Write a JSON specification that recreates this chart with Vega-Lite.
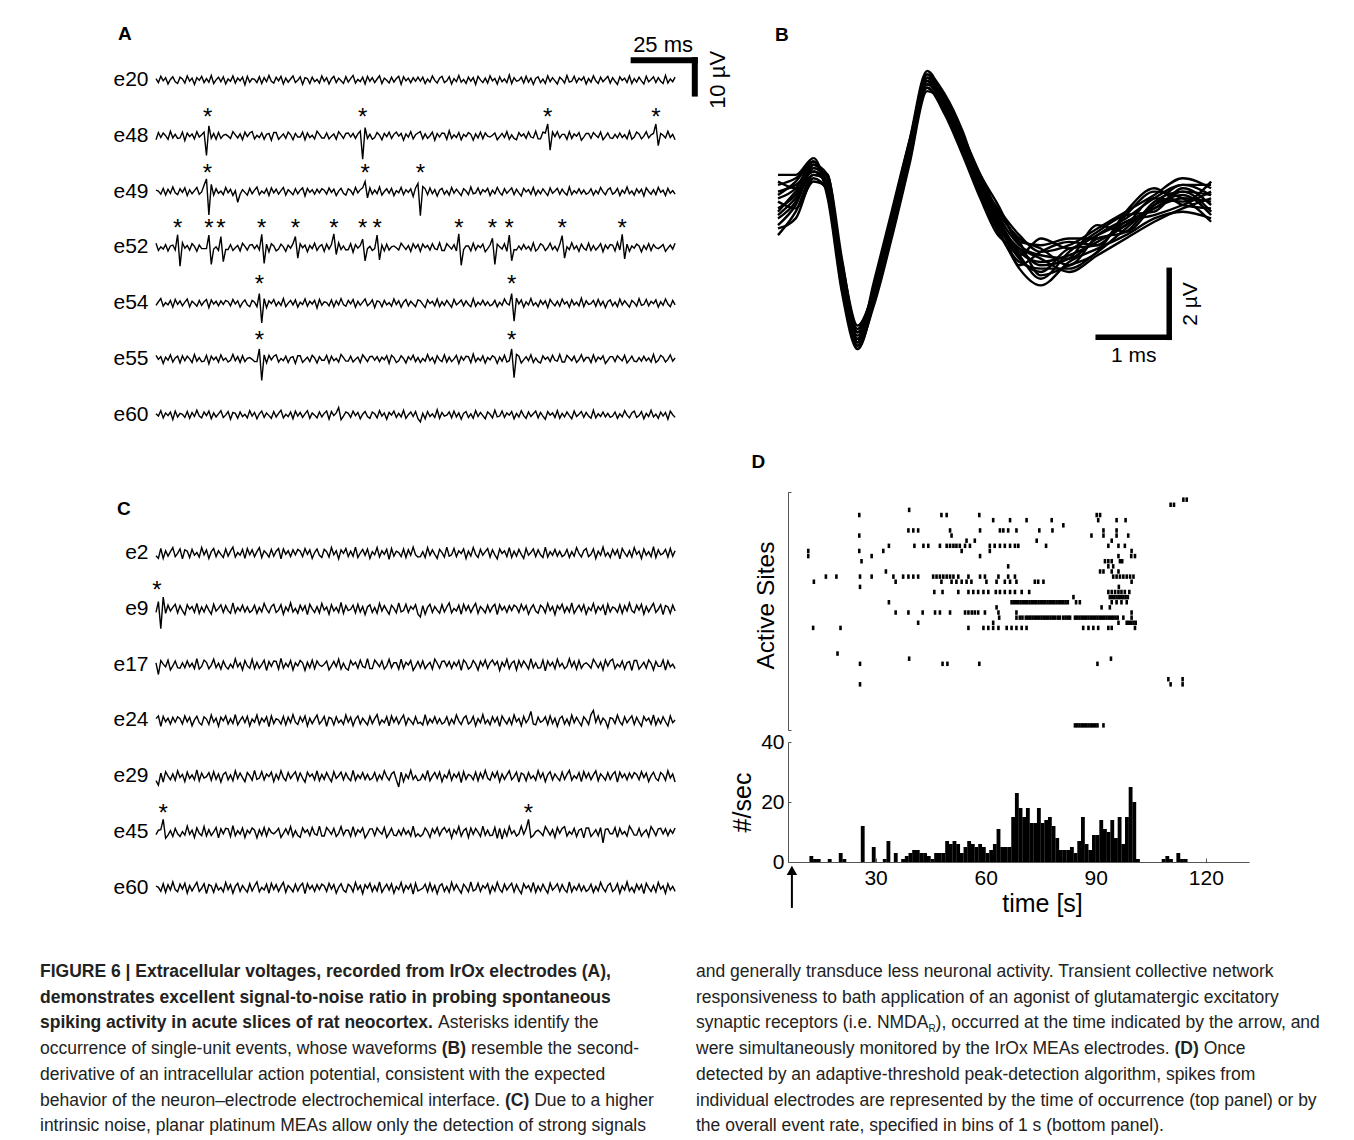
{
"$schema":"https://vega.github.io/schema/vega-lite/v6.json",
"width":1354,"height":1140,"padding":0,"autosize":{"type":"none"},
"background":"white",
"config":{"view":{"stroke":null},"font":"Liberation Sans","text":{"font":"Liberation Sans"}},
"resolve":{"scale":{"x":"independent","y":"independent","yOffset":"independent"},"axis":{"x":"independent","y":"independent"}},
"datasets":{
"a20":[{"t":0,"v":3},{"t":1,"v":-6},{"t":2,"v":8},{"t":3,"v":-2},{"t":4,"v":5},{"t":5,"v":-9},{"t":6,"v":1},{"t":7,"v":7},{"t":8,"v":-4},{"t":9,"v":-8},{"t":10,"v":6},{"t":11,"v":2},{"t":12,"v":-7},{"t":13,"v":9},{"t":14,"v":-3},{"t":15,"v":4},{"t":16,"v":-10},{"t":17,"v":5},{"t":18,"v":-1},{"t":19,"v":8},{"t":20,"v":-6},{"t":21,"v":3},{"t":22,"v":-5},{"t":23,"v":10},{"t":24,"v":-8},{"t":25,"v":0},{"t":26,"v":6},{"t":27,"v":-4},{"t":28,"v":7},{"t":29,"v":-9},{"t":30,"v":2},{"t":31,"v":-3},{"t":32,"v":9},{"t":33,"v":-7},{"t":34,"v":4},{"t":35,"v":-2},{"t":36,"v":6},{"t":37,"v":-11},{"t":38,"v":8},{"t":39,"v":-5},{"t":40,"v":3},{"t":41,"v":1},{"t":42,"v":-6},{"t":43,"v":7},{"t":44,"v":-8},{"t":45,"v":5},{"t":46,"v":-4},{"t":47,"v":10},{"t":48,"v":-3},{"t":49,"v":-7},{"t":50,"v":6},{"t":51,"v":-2},{"t":52,"v":8},{"t":53,"v":-9},{"t":54,"v":4},{"t":55,"v":-5},{"t":56,"v":2},{"t":57,"v":9},{"t":58,"v":-6},{"t":59,"v":-1},{"t":60,"v":7},{"t":61,"v":-10},{"t":62,"v":5},{"t":63,"v":3},{"t":64,"v":-8},{"t":65,"v":6},{"t":66,"v":-4},{"t":67,"v":1},{"t":68,"v":-7},{"t":69,"v":9},{"t":70,"v":-3},{"t":71,"v":5},{"t":72,"v":-9},{"t":73,"v":2},{"t":74,"v":8},{"t":75,"v":-6},{"t":76,"v":4},{"t":77,"v":-2},{"t":78,"v":-8},{"t":79,"v":7},{"t":80,"v":-5},{"t":81,"v":3},{"t":82,"v":10},{"t":83,"v":-7},{"t":84,"v":1},{"t":85,"v":-4},{"t":86,"v":6},{"t":87,"v":-9},{"t":88,"v":8},{"t":89,"v":-3},{"t":90,"v":5},{"t":91,"v":-6},{"t":92,"v":2},{"t":93,"v":9},{"t":94,"v":-8},{"t":95,"v":4},{"t":96,"v":-1},{"t":97,"v":-7},{"t":98,"v":6},{"t":99,"v":-5},{"t":100,"v":3},{"t":101,"v":8},{"t":102,"v":-10},{"t":103,"v":7},{"t":104,"v":-2},{"t":105,"v":4},{"t":106,"v":-6},{"t":107,"v":5},{"t":108,"v":-3},{"t":109,"v":6},{"t":110,"v":-3},{"t":111,"v":6},{"t":112,"v":-8},{"t":113,"v":2},{"t":114,"v":-5},{"t":115,"v":9},{"t":116,"v":-1},{"t":117,"v":-7},{"t":118,"v":4},{"t":119,"v":8},{"t":120,"v":-6},{"t":121,"v":-2},{"t":122,"v":7},{"t":123,"v":-9},{"t":124,"v":3},{"t":125,"v":-4},{"t":126,"v":10},{"t":127,"v":-5},{"t":128,"v":1},{"t":129,"v":-8},{"t":130,"v":6},{"t":131,"v":-3},{"t":132,"v":5},{"t":133,"v":-10},{"t":134,"v":8},{"t":135,"v":0},{"t":136,"v":-6},{"t":137,"v":4},{"t":138,"v":-7},{"t":139,"v":9},{"t":140,"v":-2},{"t":141,"v":3},{"t":142,"v":-9},{"t":143,"v":7},{"t":144,"v":-4},{"t":145,"v":2},{"t":146,"v":-6},{"t":147,"v":11},{"t":148,"v":-8},{"t":149,"v":5},{"t":150,"v":-3},{"t":151,"v":-1},{"t":152,"v":6},{"t":153,"v":-7},{"t":154,"v":8},{"t":155,"v":-5},{"t":156,"v":4},{"t":157,"v":-10},{"t":158,"v":3},{"t":159,"v":7},{"t":160,"v":-6},{"t":161,"v":2},{"t":162,"v":-8},{"t":163,"v":9},{"t":164,"v":-4},{"t":165,"v":5},{"t":166,"v":-2},{"t":167,"v":-9},{"t":168,"v":6},{"t":169,"v":1},{"t":170,"v":-7},{"t":171,"v":10},{"t":172,"v":-5},{"t":173,"v":-3},{"t":174,"v":8},{"t":175,"v":-6},{"t":176,"v":4},{"t":177,"v":-1},{"t":178,"v":7},{"t":179,"v":-9},{"t":180,"v":3},{"t":181,"v":-5},{"t":182,"v":9},{"t":183,"v":-2},{"t":184,"v":-8},{"t":185,"v":6},{"t":186,"v":-4},{"t":187,"v":2},{"t":188,"v":8},{"t":189,"v":-7},{"t":190,"v":5},{"t":191,"v":-3},{"t":192,"v":-10},{"t":193,"v":7},{"t":194,"v":-1},{"t":195,"v":4},{"t":196,"v":-6},{"t":197,"v":9},{"t":198,"v":-8},{"t":199,"v":3},{"t":200,"v":-5},{"t":201,"v":6},{"t":202,"v":-2},{"t":203,"v":-9},{"t":204,"v":8},{"t":205,"v":-4},{"t":206,"v":1},{"t":207,"v":7},{"t":208,"v":-6},{"t":209,"v":5},{"t":210,"v":-3},{"t":211,"v":-8},{"t":212,"v":10},{"t":213,"v":-7},{"t":214,"v":2},{"t":215,"v":-4},{"t":216,"v":6}],
"a48":[{"t":0,"v":-9},{"t":1,"v":7},{"t":2,"v":-4},{"t":3,"v":6},{"t":4,"v":0},{"t":5,"v":-8},{"t":6,"v":10},{"t":7,"v":-5},{"t":8,"v":3},{"t":9,"v":-6},{"t":10,"v":-5},{"t":11,"v":8},{"t":12,"v":-11},{"t":13,"v":6},{"t":14,"v":-2},{"t":15,"v":4},{"t":16,"v":-7},{"t":17,"v":9},{"t":18,"v":-3},{"t":19,"v":2},{"t":20,"v":8},{"t":21,"v":-44},{"t":22,"v":22},{"t":23,"v":-6},{"t":24,"v":5},{"t":25,"v":-8},{"t":26,"v":7},{"t":27,"v":-6},{"t":28,"v":1},{"t":29,"v":3},{"t":30,"v":-1},{"t":31,"v":-6},{"t":32,"v":9},{"t":33,"v":2},{"t":34,"v":-5},{"t":35,"v":4},{"t":36,"v":-9},{"t":37,"v":8},{"t":38,"v":-2},{"t":39,"v":6},{"t":40,"v":9},{"t":41,"v":-7},{"t":42,"v":1},{"t":43,"v":-4},{"t":44,"v":6},{"t":45,"v":-8},{"t":46,"v":3},{"t":47,"v":5},{"t":48,"v":-10},{"t":49,"v":7},{"t":50,"v":7},{"t":51,"v":-8},{"t":52,"v":-2},{"t":53,"v":4},{"t":54,"v":-6},{"t":55,"v":8},{"t":56,"v":2},{"t":57,"v":-9},{"t":58,"v":5},{"t":59,"v":-3},{"t":60,"v":-3},{"t":61,"v":8},{"t":62,"v":-9},{"t":63,"v":6},{"t":64,"v":-4},{"t":65,"v":1},{"t":66,"v":-7},{"t":67,"v":10},{"t":68,"v":3},{"t":69,"v":-5},{"t":70,"v":-5},{"t":71,"v":6},{"t":72,"v":-7},{"t":73,"v":-1},{"t":74,"v":4},{"t":75,"v":-8},{"t":76,"v":9},{"t":77,"v":2},{"t":78,"v":-6},{"t":79,"v":5},{"t":80,"v":6},{"t":81,"v":-3},{"t":82,"v":5},{"t":83,"v":-6},{"t":84,"v":4},{"t":85,"v":10},{"t":86,"v":-52},{"t":87,"v":18},{"t":88,"v":-6},{"t":89,"v":3},{"t":90,"v":-8},{"t":91,"v":-4},{"t":92,"v":7},{"t":93,"v":1},{"t":94,"v":-9},{"t":95,"v":5},{"t":96,"v":-2},{"t":97,"v":8},{"t":98,"v":-6},{"t":99,"v":3},{"t":100,"v":8},{"t":101,"v":-1},{"t":102,"v":5},{"t":103,"v":-10},{"t":104,"v":4},{"t":105,"v":-3},{"t":106,"v":9},{"t":107,"v":-7},{"t":108,"v":2},{"t":109,"v":6},{"t":110,"v":9},{"t":111,"v":-7},{"t":112,"v":4},{"t":113,"v":-6},{"t":114,"v":0},{"t":115,"v":8},{"t":116,"v":-10},{"t":117,"v":5},{"t":118,"v":-3},{"t":119,"v":6},{"t":120,"v":5},{"t":121,"v":-8},{"t":122,"v":11},{"t":123,"v":-6},{"t":124,"v":2},{"t":125,"v":-4},{"t":126,"v":7},{"t":127,"v":-9},{"t":128,"v":3},{"t":129,"v":-2},{"t":130,"v":7},{"t":131,"v":3},{"t":132,"v":-10},{"t":133,"v":4},{"t":134,"v":-5},{"t":135,"v":8},{"t":136,"v":-7},{"t":137,"v":6},{"t":138,"v":-1},{"t":139,"v":-3},{"t":140,"v":1},{"t":141,"v":6},{"t":142,"v":-9},{"t":143,"v":-2},{"t":144,"v":5},{"t":145,"v":-4},{"t":146,"v":9},{"t":147,"v":-8},{"t":148,"v":2},{"t":149,"v":-6},{"t":150,"v":-9},{"t":151,"v":7},{"t":152,"v":-1},{"t":153,"v":4},{"t":154,"v":-6},{"t":155,"v":8},{"t":156,"v":-3},{"t":157,"v":-5},{"t":158,"v":10},{"t":159,"v":-7},{"t":160,"v":-7},{"t":161,"v":8},{"t":162,"v":6},{"t":163,"v":26},{"t":164,"v":-32},{"t":165,"v":8},{"t":166,"v":-2},{"t":167,"v":9},{"t":168,"v":-5},{"t":169,"v":3},{"t":170,"v":3},{"t":171,"v":-8},{"t":172,"v":9},{"t":173,"v":-6},{"t":174,"v":4},{"t":175,"v":-1},{"t":176,"v":7},{"t":177,"v":-10},{"t":178,"v":-3},{"t":179,"v":5},{"t":180,"v":5},{"t":181,"v":-6},{"t":182,"v":7},{"t":183,"v":1},{"t":184,"v":-4},{"t":185,"v":8},{"t":186,"v":-9},{"t":187,"v":-2},{"t":188,"v":6},{"t":189,"v":-5},{"t":190,"v":-6},{"t":191,"v":3},{"t":192,"v":-5},{"t":193,"v":6},{"t":194,"v":-4},{"t":195,"v":2},{"t":196,"v":-7},{"t":197,"v":10},{"t":198,"v":-8},{"t":199,"v":-3},{"t":200,"v":8},{"t":201,"v":4},{"t":202,"v":-7},{"t":203,"v":-1},{"t":204,"v":9},{"t":205,"v":-5},{"t":206,"v":2},{"t":207,"v":5},{"t":208,"v":26},{"t":209,"v":-22},{"t":210,"v":5},{"t":211,"v":1},{"t":212,"v":-5},{"t":213,"v":10},{"t":214,"v":-4},{"t":215,"v":3},{"t":216,"v":-9}],
"a49":[{"t":0,"v":3},{"t":1,"v":1},{"t":2,"v":-6},{"t":3,"v":7},{"t":4,"v":-8},{"t":5,"v":5},{"t":6,"v":-4},{"t":7,"v":10},{"t":8,"v":-3},{"t":9,"v":-7},{"t":10,"v":6},{"t":11,"v":-2},{"t":12,"v":8},{"t":13,"v":-9},{"t":14,"v":4},{"t":15,"v":-5},{"t":16,"v":2},{"t":17,"v":9},{"t":18,"v":-6},{"t":19,"v":-1},{"t":20,"v":14},{"t":21,"v":28},{"t":22,"v":-52},{"t":23,"v":16},{"t":24,"v":-8},{"t":25,"v":6},{"t":26,"v":-4},{"t":27,"v":1},{"t":28,"v":-7},{"t":29,"v":9},{"t":30,"v":-3},{"t":31,"v":5},{"t":32,"v":-9},{"t":33,"v":2},{"t":34,"v":-24},{"t":35,"v":-6},{"t":36,"v":4},{"t":37,"v":-2},{"t":38,"v":-8},{"t":39,"v":7},{"t":40,"v":-5},{"t":41,"v":3},{"t":42,"v":10},{"t":43,"v":-7},{"t":44,"v":1},{"t":45,"v":-4},{"t":46,"v":6},{"t":47,"v":-9},{"t":48,"v":8},{"t":49,"v":-3},{"t":50,"v":5},{"t":51,"v":-6},{"t":52,"v":2},{"t":53,"v":9},{"t":54,"v":-8},{"t":55,"v":4},{"t":56,"v":-1},{"t":57,"v":-7},{"t":58,"v":6},{"t":59,"v":-5},{"t":60,"v":3},{"t":61,"v":8},{"t":62,"v":-10},{"t":63,"v":7},{"t":64,"v":-2},{"t":65,"v":4},{"t":66,"v":-6},{"t":67,"v":5},{"t":68,"v":-3},{"t":69,"v":6},{"t":70,"v":3},{"t":71,"v":-6},{"t":72,"v":8},{"t":73,"v":-2},{"t":74,"v":5},{"t":75,"v":-9},{"t":76,"v":1},{"t":77,"v":7},{"t":78,"v":-4},{"t":79,"v":-8},{"t":80,"v":6},{"t":81,"v":2},{"t":82,"v":-7},{"t":83,"v":9},{"t":84,"v":-3},{"t":85,"v":4},{"t":86,"v":8},{"t":87,"v":22},{"t":88,"v":-14},{"t":89,"v":8},{"t":90,"v":-6},{"t":91,"v":3},{"t":92,"v":-5},{"t":93,"v":10},{"t":94,"v":-8},{"t":95,"v":0},{"t":96,"v":6},{"t":97,"v":-4},{"t":98,"v":7},{"t":99,"v":-9},{"t":100,"v":2},{"t":101,"v":-3},{"t":102,"v":9},{"t":103,"v":-7},{"t":104,"v":4},{"t":105,"v":-2},{"t":106,"v":6},{"t":107,"v":-11},{"t":108,"v":8},{"t":109,"v":18},{"t":110,"v":-54},{"t":111,"v":11},{"t":112,"v":6},{"t":113,"v":-7},{"t":114,"v":8},{"t":115,"v":-5},{"t":116,"v":4},{"t":117,"v":-10},{"t":118,"v":3},{"t":119,"v":7},{"t":120,"v":-6},{"t":121,"v":2},{"t":122,"v":-8},{"t":123,"v":9},{"t":124,"v":-4},{"t":125,"v":5},{"t":126,"v":-2},{"t":127,"v":-9},{"t":128,"v":6},{"t":129,"v":1},{"t":130,"v":-7},{"t":131,"v":10},{"t":132,"v":-5},{"t":133,"v":-3},{"t":134,"v":8},{"t":135,"v":-6},{"t":136,"v":4},{"t":137,"v":-1},{"t":138,"v":7},{"t":139,"v":-9},{"t":140,"v":3},{"t":141,"v":-5},{"t":142,"v":9},{"t":143,"v":-2},{"t":144,"v":-8},{"t":145,"v":6},{"t":146,"v":-4},{"t":147,"v":2},{"t":148,"v":8},{"t":149,"v":-7},{"t":150,"v":5},{"t":151,"v":-3},{"t":152,"v":-10},{"t":153,"v":7},{"t":154,"v":-1},{"t":155,"v":4},{"t":156,"v":-6},{"t":157,"v":9},{"t":158,"v":-8},{"t":159,"v":3},{"t":160,"v":-5},{"t":161,"v":6},{"t":162,"v":-2},{"t":163,"v":-9},{"t":164,"v":8},{"t":165,"v":-4},{"t":166,"v":1},{"t":167,"v":7},{"t":168,"v":-6},{"t":169,"v":5},{"t":170,"v":-3},{"t":171,"v":-8},{"t":172,"v":10},{"t":173,"v":-7},{"t":174,"v":2},{"t":175,"v":-4},{"t":176,"v":6},{"t":177,"v":-5},{"t":178,"v":3},{"t":179,"v":-6},{"t":180,"v":-3},{"t":181,"v":6},{"t":182,"v":-8},{"t":183,"v":2},{"t":184,"v":-5},{"t":185,"v":9},{"t":186,"v":-1},{"t":187,"v":-7},{"t":188,"v":4},{"t":189,"v":8},{"t":190,"v":-6},{"t":191,"v":-2},{"t":192,"v":7},{"t":193,"v":-9},{"t":194,"v":3},{"t":195,"v":-4},{"t":196,"v":10},{"t":197,"v":-5},{"t":198,"v":1},{"t":199,"v":-8},{"t":200,"v":6},{"t":201,"v":-3},{"t":202,"v":5},{"t":203,"v":-10},{"t":204,"v":8},{"t":205,"v":0},{"t":206,"v":-6},{"t":207,"v":4},{"t":208,"v":-7},{"t":209,"v":9},{"t":210,"v":-2},{"t":211,"v":3},{"t":212,"v":-9},{"t":213,"v":7},{"t":214,"v":-4},{"t":215,"v":2},{"t":216,"v":-6}],
"a52":[{"t":0,"v":9},{"t":1,"v":-7},{"t":2,"v":1},{"t":3,"v":-4},{"t":4,"v":6},{"t":5,"v":-8},{"t":6,"v":3},{"t":7,"v":5},{"t":8,"v":-6},{"t":9,"v":28},{"t":10,"v":-42},{"t":11,"v":10},{"t":12,"v":-2},{"t":13,"v":4},{"t":14,"v":-6},{"t":15,"v":8},{"t":16,"v":2},{"t":17,"v":-9},{"t":18,"v":5},{"t":19,"v":-3},{"t":20,"v":-3},{"t":21,"v":-3},{"t":22,"v":27},{"t":23,"v":-38},{"t":24,"v":-4},{"t":25,"v":1},{"t":26,"v":-7},{"t":27,"v":24},{"t":28,"v":-32},{"t":29,"v":-5},{"t":30,"v":-5},{"t":31,"v":6},{"t":32,"v":-7},{"t":33,"v":-1},{"t":34,"v":4},{"t":35,"v":-8},{"t":36,"v":9},{"t":37,"v":2},{"t":38,"v":-6},{"t":39,"v":5},{"t":40,"v":6},{"t":41,"v":-3},{"t":42,"v":5},{"t":43,"v":-6},{"t":44,"v":29},{"t":45,"v":-36},{"t":46,"v":7},{"t":47,"v":-10},{"t":48,"v":8},{"t":49,"v":3},{"t":50,"v":-8},{"t":51,"v":-4},{"t":52,"v":7},{"t":53,"v":1},{"t":54,"v":-9},{"t":55,"v":5},{"t":56,"v":-2},{"t":57,"v":8},{"t":58,"v":24},{"t":59,"v":-24},{"t":60,"v":8},{"t":61,"v":-1},{"t":62,"v":5},{"t":63,"v":-10},{"t":64,"v":4},{"t":65,"v":-3},{"t":66,"v":9},{"t":67,"v":-7},{"t":68,"v":2},{"t":69,"v":6},{"t":70,"v":-9},{"t":71,"v":7},{"t":72,"v":-4},{"t":73,"v":6},{"t":74,"v":30},{"t":75,"v":-16},{"t":76,"v":10},{"t":77,"v":-5},{"t":78,"v":3},{"t":79,"v":-6},{"t":80,"v":-5},{"t":81,"v":8},{"t":82,"v":-11},{"t":83,"v":6},{"t":84,"v":-2},{"t":85,"v":4},{"t":86,"v":18},{"t":87,"v":-30},{"t":88,"v":-3},{"t":89,"v":2},{"t":90,"v":-7},{"t":91,"v":-3},{"t":92,"v":27},{"t":93,"v":-28},{"t":94,"v":5},{"t":95,"v":-8},{"t":96,"v":7},{"t":97,"v":-6},{"t":98,"v":1},{"t":99,"v":3},{"t":100,"v":-1},{"t":101,"v":-6},{"t":102,"v":9},{"t":103,"v":2},{"t":104,"v":-5},{"t":105,"v":4},{"t":106,"v":-9},{"t":107,"v":8},{"t":108,"v":-2},{"t":109,"v":6},{"t":110,"v":-9},{"t":111,"v":7},{"t":112,"v":-1},{"t":113,"v":4},{"t":114,"v":-6},{"t":115,"v":8},{"t":116,"v":-3},{"t":117,"v":-5},{"t":118,"v":10},{"t":119,"v":-7},{"t":120,"v":-7},{"t":121,"v":8},{"t":122,"v":2},{"t":123,"v":-4},{"t":124,"v":6},{"t":125,"v":-8},{"t":126,"v":30},{"t":127,"v":-40},{"t":128,"v":-5},{"t":129,"v":3},{"t":130,"v":3},{"t":131,"v":-8},{"t":132,"v":9},{"t":133,"v":-6},{"t":134,"v":4},{"t":135,"v":-1},{"t":136,"v":7},{"t":137,"v":-10},{"t":138,"v":-3},{"t":139,"v":5},{"t":140,"v":20},{"t":141,"v":-38},{"t":142,"v":7},{"t":143,"v":1},{"t":144,"v":-4},{"t":145,"v":8},{"t":146,"v":-9},{"t":147,"v":27},{"t":148,"v":-30},{"t":149,"v":-5},{"t":150,"v":-6},{"t":151,"v":3},{"t":152,"v":-5},{"t":153,"v":6},{"t":154,"v":-4},{"t":155,"v":2},{"t":156,"v":-7},{"t":157,"v":10},{"t":158,"v":-8},{"t":159,"v":-3},{"t":160,"v":8},{"t":161,"v":4},{"t":162,"v":-7},{"t":163,"v":-1},{"t":164,"v":9},{"t":165,"v":-5},{"t":166,"v":2},{"t":167,"v":-8},{"t":168,"v":6},{"t":169,"v":26},{"t":170,"v":-24},{"t":171,"v":1},{"t":172,"v":-5},{"t":173,"v":10},{"t":174,"v":-4},{"t":175,"v":3},{"t":176,"v":-9},{"t":177,"v":7},{"t":178,"v":-2},{"t":179,"v":-6},{"t":180,"v":9},{"t":181,"v":-7},{"t":182,"v":4},{"t":183,"v":-6},{"t":184,"v":0},{"t":185,"v":8},{"t":186,"v":-10},{"t":187,"v":5},{"t":188,"v":-3},{"t":189,"v":6},{"t":190,"v":5},{"t":191,"v":-8},{"t":192,"v":11},{"t":193,"v":-6},{"t":194,"v":29},{"t":195,"v":-26},{"t":196,"v":7},{"t":197,"v":-9},{"t":198,"v":3},{"t":199,"v":-2},{"t":200,"v":7},{"t":201,"v":3},{"t":202,"v":-10},{"t":203,"v":4},{"t":204,"v":-5},{"t":205,"v":8},{"t":206,"v":-7},{"t":207,"v":6},{"t":208,"v":-1},{"t":209,"v":-3},{"t":210,"v":1},{"t":211,"v":6},{"t":212,"v":-9},{"t":213,"v":-2},{"t":214,"v":5},{"t":215,"v":-4},{"t":216,"v":9}],
"a54":[{"t":0,"v":-5},{"t":1,"v":3},{"t":2,"v":10},{"t":3,"v":-7},{"t":4,"v":1},{"t":5,"v":-4},{"t":6,"v":6},{"t":7,"v":-9},{"t":8,"v":8},{"t":9,"v":-3},{"t":10,"v":5},{"t":11,"v":-6},{"t":12,"v":2},{"t":13,"v":9},{"t":14,"v":-8},{"t":15,"v":4},{"t":16,"v":-1},{"t":17,"v":-7},{"t":18,"v":6},{"t":19,"v":-5},{"t":20,"v":3},{"t":21,"v":8},{"t":22,"v":-10},{"t":23,"v":7},{"t":24,"v":-2},{"t":25,"v":4},{"t":26,"v":-6},{"t":27,"v":5},{"t":28,"v":-3},{"t":29,"v":6},{"t":30,"v":3},{"t":31,"v":-6},{"t":32,"v":8},{"t":33,"v":-2},{"t":34,"v":5},{"t":35,"v":-9},{"t":36,"v":1},{"t":37,"v":7},{"t":38,"v":-4},{"t":39,"v":-8},{"t":40,"v":6},{"t":41,"v":2},{"t":42,"v":-8},{"t":43,"v":21},{"t":44,"v":-44},{"t":45,"v":10},{"t":46,"v":-10},{"t":47,"v":5},{"t":48,"v":-1},{"t":49,"v":8},{"t":50,"v":-6},{"t":51,"v":3},{"t":52,"v":-5},{"t":53,"v":10},{"t":54,"v":-8},{"t":55,"v":0},{"t":56,"v":6},{"t":57,"v":-4},{"t":58,"v":7},{"t":59,"v":-9},{"t":60,"v":2},{"t":61,"v":-3},{"t":62,"v":9},{"t":63,"v":-7},{"t":64,"v":4},{"t":65,"v":-2},{"t":66,"v":6},{"t":67,"v":-11},{"t":68,"v":8},{"t":69,"v":-5},{"t":70,"v":3},{"t":71,"v":1},{"t":72,"v":-6},{"t":73,"v":7},{"t":74,"v":-8},{"t":75,"v":5},{"t":76,"v":-4},{"t":77,"v":10},{"t":78,"v":-3},{"t":79,"v":-7},{"t":80,"v":6},{"t":81,"v":-2},{"t":82,"v":8},{"t":83,"v":-9},{"t":84,"v":4},{"t":85,"v":-5},{"t":86,"v":2},{"t":87,"v":9},{"t":88,"v":-6},{"t":89,"v":-1},{"t":90,"v":7},{"t":91,"v":-10},{"t":92,"v":5},{"t":93,"v":3},{"t":94,"v":-8},{"t":95,"v":6},{"t":96,"v":-4},{"t":97,"v":1},{"t":98,"v":-7},{"t":99,"v":9},{"t":100,"v":-3},{"t":101,"v":5},{"t":102,"v":-9},{"t":103,"v":2},{"t":104,"v":8},{"t":105,"v":-6},{"t":106,"v":4},{"t":107,"v":-2},{"t":108,"v":-8},{"t":109,"v":7},{"t":110,"v":5},{"t":111,"v":-3},{"t":112,"v":-10},{"t":113,"v":7},{"t":114,"v":-1},{"t":115,"v":4},{"t":116,"v":-6},{"t":117,"v":9},{"t":118,"v":-8},{"t":119,"v":3},{"t":120,"v":-5},{"t":121,"v":6},{"t":122,"v":-2},{"t":123,"v":-9},{"t":124,"v":8},{"t":125,"v":-4},{"t":126,"v":1},{"t":127,"v":7},{"t":128,"v":-6},{"t":129,"v":5},{"t":130,"v":-3},{"t":131,"v":-8},{"t":132,"v":10},{"t":133,"v":-7},{"t":134,"v":2},{"t":135,"v":-4},{"t":136,"v":6},{"t":137,"v":-5},{"t":138,"v":3},{"t":139,"v":-6},{"t":140,"v":-3},{"t":141,"v":6},{"t":142,"v":-8},{"t":143,"v":2},{"t":144,"v":-5},{"t":145,"v":9},{"t":146,"v":-1},{"t":147,"v":-4},{"t":148,"v":21},{"t":149,"v":-40},{"t":150,"v":11},{"t":151,"v":-2},{"t":152,"v":7},{"t":153,"v":-9},{"t":154,"v":3},{"t":155,"v":-4},{"t":156,"v":10},{"t":157,"v":-5},{"t":158,"v":1},{"t":159,"v":-8},{"t":160,"v":6},{"t":161,"v":-3},{"t":162,"v":5},{"t":163,"v":-10},{"t":164,"v":8},{"t":165,"v":0},{"t":166,"v":-6},{"t":167,"v":4},{"t":168,"v":-7},{"t":169,"v":9},{"t":170,"v":-2},{"t":171,"v":3},{"t":172,"v":-9},{"t":173,"v":7},{"t":174,"v":-4},{"t":175,"v":2},{"t":176,"v":-6},{"t":177,"v":11},{"t":178,"v":-8},{"t":179,"v":5},{"t":180,"v":-3},{"t":181,"v":-1},{"t":182,"v":6},{"t":183,"v":-7},{"t":184,"v":8},{"t":185,"v":-5},{"t":186,"v":4},{"t":187,"v":-10},{"t":188,"v":3},{"t":189,"v":7},{"t":190,"v":-6},{"t":191,"v":2},{"t":192,"v":-8},{"t":193,"v":9},{"t":194,"v":-4},{"t":195,"v":5},{"t":196,"v":-2},{"t":197,"v":-9},{"t":198,"v":6},{"t":199,"v":1},{"t":200,"v":-7},{"t":201,"v":10},{"t":202,"v":-5},{"t":203,"v":-3},{"t":204,"v":8},{"t":205,"v":-6},{"t":206,"v":4},{"t":207,"v":-1},{"t":208,"v":7},{"t":209,"v":-9},{"t":210,"v":3},{"t":211,"v":-5},{"t":212,"v":9},{"t":213,"v":-2},{"t":214,"v":-8},{"t":215,"v":6},{"t":216,"v":-4}],
"a55":[{"t":0,"v":8},{"t":1,"v":-1},{"t":2,"v":5},{"t":3,"v":-10},{"t":4,"v":4},{"t":5,"v":-3},{"t":6,"v":9},{"t":7,"v":-7},{"t":8,"v":2},{"t":9,"v":6},{"t":10,"v":-9},{"t":11,"v":7},{"t":12,"v":-4},{"t":13,"v":6},{"t":14,"v":0},{"t":15,"v":-8},{"t":16,"v":10},{"t":17,"v":-5},{"t":18,"v":3},{"t":19,"v":-6},{"t":20,"v":-5},{"t":21,"v":8},{"t":22,"v":-11},{"t":23,"v":6},{"t":24,"v":-2},{"t":25,"v":4},{"t":26,"v":-7},{"t":27,"v":9},{"t":28,"v":-3},{"t":29,"v":2},{"t":30,"v":-7},{"t":31,"v":-3},{"t":32,"v":10},{"t":33,"v":-4},{"t":34,"v":5},{"t":35,"v":-8},{"t":36,"v":7},{"t":37,"v":-6},{"t":38,"v":1},{"t":39,"v":3},{"t":40,"v":-1},{"t":41,"v":-6},{"t":42,"v":-6},{"t":43,"v":22},{"t":44,"v":-48},{"t":45,"v":9},{"t":46,"v":-9},{"t":47,"v":8},{"t":48,"v":-2},{"t":49,"v":6},{"t":50,"v":9},{"t":51,"v":-7},{"t":52,"v":1},{"t":53,"v":-4},{"t":54,"v":6},{"t":55,"v":-8},{"t":56,"v":3},{"t":57,"v":5},{"t":58,"v":-10},{"t":59,"v":7},{"t":60,"v":7},{"t":61,"v":-8},{"t":62,"v":-2},{"t":63,"v":4},{"t":64,"v":-6},{"t":65,"v":8},{"t":66,"v":2},{"t":67,"v":-9},{"t":68,"v":5},{"t":69,"v":-3},{"t":70,"v":-3},{"t":71,"v":8},{"t":72,"v":-9},{"t":73,"v":6},{"t":74,"v":-4},{"t":75,"v":1},{"t":76,"v":-7},{"t":77,"v":10},{"t":78,"v":3},{"t":79,"v":-5},{"t":80,"v":-5},{"t":81,"v":6},{"t":82,"v":-7},{"t":83,"v":-1},{"t":84,"v":4},{"t":85,"v":-8},{"t":86,"v":9},{"t":87,"v":2},{"t":88,"v":-6},{"t":89,"v":5},{"t":90,"v":6},{"t":91,"v":-3},{"t":92,"v":5},{"t":93,"v":-6},{"t":94,"v":4},{"t":95,"v":-2},{"t":96,"v":7},{"t":97,"v":-10},{"t":98,"v":8},{"t":99,"v":3},{"t":100,"v":-8},{"t":101,"v":-4},{"t":102,"v":7},{"t":103,"v":1},{"t":104,"v":-9},{"t":105,"v":5},{"t":106,"v":-2},{"t":107,"v":8},{"t":108,"v":-6},{"t":109,"v":3},{"t":110,"v":-8},{"t":111,"v":1},{"t":112,"v":-5},{"t":113,"v":10},{"t":114,"v":-4},{"t":115,"v":3},{"t":116,"v":-9},{"t":117,"v":7},{"t":118,"v":-2},{"t":119,"v":-6},{"t":120,"v":9},{"t":121,"v":-7},{"t":122,"v":4},{"t":123,"v":-6},{"t":124,"v":0},{"t":125,"v":8},{"t":126,"v":-10},{"t":127,"v":5},{"t":128,"v":-3},{"t":129,"v":6},{"t":130,"v":5},{"t":131,"v":-8},{"t":132,"v":11},{"t":133,"v":-6},{"t":134,"v":2},{"t":135,"v":-4},{"t":136,"v":7},{"t":137,"v":-9},{"t":138,"v":3},{"t":139,"v":-2},{"t":140,"v":7},{"t":141,"v":3},{"t":142,"v":-10},{"t":143,"v":4},{"t":144,"v":-5},{"t":145,"v":8},{"t":146,"v":-7},{"t":147,"v":-4},{"t":148,"v":22},{"t":149,"v":-42},{"t":150,"v":10},{"t":151,"v":6},{"t":152,"v":-9},{"t":153,"v":-2},{"t":154,"v":5},{"t":155,"v":-4},{"t":156,"v":9},{"t":157,"v":-8},{"t":158,"v":2},{"t":159,"v":-6},{"t":160,"v":-9},{"t":161,"v":7},{"t":162,"v":-1},{"t":163,"v":4},{"t":164,"v":-6},{"t":165,"v":8},{"t":166,"v":-3},{"t":167,"v":-5},{"t":168,"v":10},{"t":169,"v":-7},{"t":170,"v":-7},{"t":171,"v":8},{"t":172,"v":2},{"t":173,"v":-4},{"t":174,"v":6},{"t":175,"v":-8},{"t":176,"v":-2},{"t":177,"v":9},{"t":178,"v":-5},{"t":179,"v":3},{"t":180,"v":3},{"t":181,"v":-8},{"t":182,"v":9},{"t":183,"v":-6},{"t":184,"v":4},{"t":185,"v":-1},{"t":186,"v":7},{"t":187,"v":-10},{"t":188,"v":-3},{"t":189,"v":5},{"t":190,"v":5},{"t":191,"v":-6},{"t":192,"v":7},{"t":193,"v":1},{"t":194,"v":-4},{"t":195,"v":8},{"t":196,"v":-9},{"t":197,"v":-2},{"t":198,"v":6},{"t":199,"v":-5},{"t":200,"v":-6},{"t":201,"v":3},{"t":202,"v":-5},{"t":203,"v":6},{"t":204,"v":-4},{"t":205,"v":2},{"t":206,"v":-7},{"t":207,"v":10},{"t":208,"v":-8},{"t":209,"v":-3},{"t":210,"v":8},{"t":211,"v":4},{"t":212,"v":-7},{"t":213,"v":-1},{"t":214,"v":9},{"t":215,"v":-5},{"t":216,"v":2}],
"a60":[{"t":0,"v":2},{"t":1,"v":-3},{"t":2,"v":9},{"t":3,"v":-7},{"t":4,"v":4},{"t":5,"v":-2},{"t":6,"v":6},{"t":7,"v":-11},{"t":8,"v":8},{"t":9,"v":-5},{"t":10,"v":3},{"t":11,"v":1},{"t":12,"v":-6},{"t":13,"v":7},{"t":14,"v":-8},{"t":15,"v":5},{"t":16,"v":-4},{"t":17,"v":10},{"t":18,"v":-3},{"t":19,"v":-7},{"t":20,"v":6},{"t":21,"v":-2},{"t":22,"v":8},{"t":23,"v":-9},{"t":24,"v":4},{"t":25,"v":-5},{"t":26,"v":2},{"t":27,"v":9},{"t":28,"v":-6},{"t":29,"v":-1},{"t":30,"v":7},{"t":31,"v":-10},{"t":32,"v":5},{"t":33,"v":3},{"t":34,"v":-8},{"t":35,"v":6},{"t":36,"v":-4},{"t":37,"v":1},{"t":38,"v":-7},{"t":39,"v":9},{"t":40,"v":-3},{"t":41,"v":5},{"t":42,"v":-9},{"t":43,"v":2},{"t":44,"v":8},{"t":45,"v":-6},{"t":46,"v":4},{"t":47,"v":-2},{"t":48,"v":-8},{"t":49,"v":7},{"t":50,"v":-5},{"t":51,"v":3},{"t":52,"v":10},{"t":53,"v":-7},{"t":54,"v":1},{"t":55,"v":-4},{"t":56,"v":6},{"t":57,"v":-9},{"t":58,"v":8},{"t":59,"v":-3},{"t":60,"v":5},{"t":61,"v":-6},{"t":62,"v":2},{"t":63,"v":9},{"t":64,"v":-8},{"t":65,"v":4},{"t":66,"v":-1},{"t":67,"v":-7},{"t":68,"v":6},{"t":69,"v":-5},{"t":70,"v":3},{"t":71,"v":8},{"t":72,"v":-10},{"t":73,"v":7},{"t":74,"v":-2},{"t":75,"v":4},{"t":76,"v":16},{"t":77,"v":-11},{"t":78,"v":-3},{"t":79,"v":6},{"t":80,"v":3},{"t":81,"v":-6},{"t":82,"v":8},{"t":83,"v":-2},{"t":84,"v":5},{"t":85,"v":-9},{"t":86,"v":1},{"t":87,"v":7},{"t":88,"v":-4},{"t":89,"v":-8},{"t":90,"v":6},{"t":91,"v":2},{"t":92,"v":-7},{"t":93,"v":9},{"t":94,"v":-3},{"t":95,"v":4},{"t":96,"v":-10},{"t":97,"v":5},{"t":98,"v":-1},{"t":99,"v":8},{"t":100,"v":-6},{"t":101,"v":3},{"t":102,"v":-5},{"t":103,"v":10},{"t":104,"v":-8},{"t":105,"v":0},{"t":106,"v":6},{"t":107,"v":-4},{"t":108,"v":7},{"t":109,"v":-9},{"t":110,"v":-16},{"t":111,"v":3},{"t":112,"v":-9},{"t":113,"v":7},{"t":114,"v":-4},{"t":115,"v":2},{"t":116,"v":-6},{"t":117,"v":11},{"t":118,"v":-8},{"t":119,"v":5},{"t":120,"v":-3},{"t":121,"v":-1},{"t":122,"v":6},{"t":123,"v":-7},{"t":124,"v":8},{"t":125,"v":-5},{"t":126,"v":4},{"t":127,"v":-10},{"t":128,"v":3},{"t":129,"v":7},{"t":130,"v":-6},{"t":131,"v":2},{"t":132,"v":-8},{"t":133,"v":9},{"t":134,"v":-4},{"t":135,"v":5},{"t":136,"v":-2},{"t":137,"v":-9},{"t":138,"v":6},{"t":139,"v":1},{"t":140,"v":-7},{"t":141,"v":10},{"t":142,"v":-5},{"t":143,"v":-3},{"t":144,"v":8},{"t":145,"v":-6},{"t":146,"v":4},{"t":147,"v":-1},{"t":148,"v":7},{"t":149,"v":-9},{"t":150,"v":3},{"t":151,"v":-5},{"t":152,"v":9},{"t":153,"v":-2},{"t":154,"v":-8},{"t":155,"v":6},{"t":156,"v":-4},{"t":157,"v":2},{"t":158,"v":8},{"t":159,"v":-7},{"t":160,"v":5},{"t":161,"v":-3},{"t":162,"v":-10},{"t":163,"v":7},{"t":164,"v":-1},{"t":165,"v":4},{"t":166,"v":-6},{"t":167,"v":9},{"t":168,"v":-8},{"t":169,"v":3},{"t":170,"v":-5},{"t":171,"v":6},{"t":172,"v":-2},{"t":173,"v":-9},{"t":174,"v":8},{"t":175,"v":-4},{"t":176,"v":1},{"t":177,"v":7},{"t":178,"v":-6},{"t":179,"v":5},{"t":180,"v":-3},{"t":181,"v":-8},{"t":182,"v":10},{"t":183,"v":-7},{"t":184,"v":2},{"t":185,"v":-4},{"t":186,"v":6},{"t":187,"v":-5},{"t":188,"v":3},{"t":189,"v":-6},{"t":190,"v":-3},{"t":191,"v":6},{"t":192,"v":-8},{"t":193,"v":2},{"t":194,"v":-5},{"t":195,"v":9},{"t":196,"v":-1},{"t":197,"v":-7},{"t":198,"v":4},{"t":199,"v":8},{"t":200,"v":-6},{"t":201,"v":-2},{"t":202,"v":7},{"t":203,"v":-9},{"t":204,"v":3},{"t":205,"v":-4},{"t":206,"v":10},{"t":207,"v":-5},{"t":208,"v":1},{"t":209,"v":-8},{"t":210,"v":6},{"t":211,"v":-3},{"t":212,"v":5},{"t":213,"v":-10},{"t":214,"v":8},{"t":215,"v":0},{"t":216,"v":-6}],
"c2":[{"t":0,"v":-6},{"t":1,"v":-12},{"t":2,"v":10},{"t":3,"v":-12},{"t":4,"v":5},{"t":5,"v":-7},{"t":6,"v":3},{"t":7,"v":12},{"t":8,"v":-8},{"t":9,"v":-1},{"t":10,"v":9},{"t":11,"v":-13},{"t":12,"v":7},{"t":13,"v":4},{"t":14,"v":-10},{"t":15,"v":8},{"t":16,"v":-5},{"t":17,"v":1},{"t":18,"v":-9},{"t":19,"v":12},{"t":20,"v":-4},{"t":21,"v":7},{"t":22,"v":-12},{"t":23,"v":3},{"t":24,"v":10},{"t":25,"v":-8},{"t":26,"v":5},{"t":27,"v":-3},{"t":28,"v":-10},{"t":29,"v":9},{"t":30,"v":-7},{"t":31,"v":4},{"t":32,"v":13},{"t":33,"v":-9},{"t":34,"v":1},{"t":35,"v":-5},{"t":36,"v":8},{"t":37,"v":-12},{"t":38,"v":10},{"t":39,"v":-4},{"t":40,"v":7},{"t":41,"v":-8},{"t":42,"v":3},{"t":43,"v":12},{"t":44,"v":-10},{"t":45,"v":5},{"t":46,"v":-1},{"t":47,"v":-9},{"t":48,"v":8},{"t":49,"v":-7},{"t":50,"v":4},{"t":51,"v":10},{"t":52,"v":-13},{"t":53,"v":9},{"t":54,"v":-3},{"t":55,"v":5},{"t":56,"v":-8},{"t":57,"v":7},{"t":58,"v":-4},{"t":59,"v":8},{"t":60,"v":4},{"t":61,"v":-8},{"t":62,"v":10},{"t":63,"v":-3},{"t":64,"v":7},{"t":65,"v":-12},{"t":66,"v":1},{"t":67,"v":9},{"t":68,"v":-5},{"t":69,"v":-10},{"t":70,"v":8},{"t":71,"v":3},{"t":72,"v":-9},{"t":73,"v":12},{"t":74,"v":-4},{"t":75,"v":5},{"t":76,"v":-13},{"t":77,"v":7},{"t":78,"v":-1},{"t":79,"v":10},{"t":80,"v":-8},{"t":81,"v":4},{"t":82,"v":-7},{"t":83,"v":13},{"t":84,"v":-10},{"t":85,"v":0},{"t":86,"v":8},{"t":87,"v":-5},{"t":88,"v":9},{"t":89,"v":-12},{"t":90,"v":3},{"t":91,"v":-4},{"t":92,"v":12},{"t":93,"v":-9},{"t":94,"v":5},{"t":95,"v":-3},{"t":96,"v":8},{"t":97,"v":-14},{"t":98,"v":10},{"t":99,"v":-7},{"t":100,"v":4},{"t":101,"v":1},{"t":102,"v":-8},{"t":103,"v":9},{"t":104,"v":-10},{"t":105,"v":7},{"t":106,"v":-5},{"t":107,"v":13},{"t":108,"v":-4},{"t":109,"v":-9},{"t":110,"v":-8},{"t":111,"v":3},{"t":112,"v":-10},{"t":113,"v":12},{"t":114,"v":-5},{"t":115,"v":7},{"t":116,"v":-3},{"t":117,"v":-12},{"t":118,"v":8},{"t":119,"v":1},{"t":120,"v":-9},{"t":121,"v":13},{"t":122,"v":-7},{"t":123,"v":-4},{"t":124,"v":10},{"t":125,"v":-8},{"t":126,"v":5},{"t":127,"v":-1},{"t":128,"v":9},{"t":129,"v":-12},{"t":130,"v":4},{"t":131,"v":-7},{"t":132,"v":12},{"t":133,"v":-3},{"t":134,"v":-10},{"t":135,"v":8},{"t":136,"v":-5},{"t":137,"v":3},{"t":138,"v":10},{"t":139,"v":-9},{"t":140,"v":7},{"t":141,"v":-4},{"t":142,"v":-13},{"t":143,"v":9},{"t":144,"v":-1},{"t":145,"v":5},{"t":146,"v":-8},{"t":147,"v":12},{"t":148,"v":-10},{"t":149,"v":4},{"t":150,"v":-7},{"t":151,"v":8},{"t":152,"v":-3},{"t":153,"v":-12},{"t":154,"v":10},{"t":155,"v":-5},{"t":156,"v":1},{"t":157,"v":9},{"t":158,"v":-8},{"t":159,"v":7},{"t":160,"v":-4},{"t":161,"v":-10},{"t":162,"v":13},{"t":163,"v":-9},{"t":164,"v":3},{"t":165,"v":-5},{"t":166,"v":8},{"t":167,"v":-7},{"t":168,"v":4},{"t":169,"v":-8},{"t":170,"v":-4},{"t":171,"v":8},{"t":172,"v":-10},{"t":173,"v":3},{"t":174,"v":-7},{"t":175,"v":12},{"t":176,"v":-1},{"t":177,"v":-9},{"t":178,"v":5},{"t":179,"v":10},{"t":180,"v":-8},{"t":181,"v":-3},{"t":182,"v":9},{"t":183,"v":-12},{"t":184,"v":4},{"t":185,"v":-5},{"t":186,"v":13},{"t":187,"v":-7},{"t":188,"v":1},{"t":189,"v":-10},{"t":190,"v":8},{"t":191,"v":-4},{"t":192,"v":7},{"t":193,"v":-13},{"t":194,"v":10},{"t":195,"v":0},{"t":196,"v":-8},{"t":197,"v":5},{"t":198,"v":-9},{"t":199,"v":12},{"t":200,"v":-3},{"t":201,"v":4},{"t":202,"v":-12},{"t":203,"v":9},{"t":204,"v":-5},{"t":205,"v":3},{"t":206,"v":-8},{"t":207,"v":14},{"t":208,"v":-10},{"t":209,"v":7},{"t":210,"v":-4},{"t":211,"v":-1},{"t":212,"v":8},{"t":213,"v":-9},{"t":214,"v":10},{"t":215,"v":-7},{"t":216,"v":5}],
"c9":[{"t":0,"v":-8},{"t":1,"v":16},{"t":2,"v":-44},{"t":3,"v":26},{"t":4,"v":-10},{"t":5,"v":8},{"t":6,"v":-5},{"t":7,"v":3},{"t":8,"v":10},{"t":9,"v":-9},{"t":10,"v":7},{"t":11,"v":-4},{"t":12,"v":-13},{"t":13,"v":9},{"t":14,"v":-1},{"t":15,"v":5},{"t":16,"v":-8},{"t":17,"v":12},{"t":18,"v":-10},{"t":19,"v":4},{"t":20,"v":-7},{"t":21,"v":8},{"t":22,"v":-3},{"t":23,"v":-12},{"t":24,"v":10},{"t":25,"v":-5},{"t":26,"v":1},{"t":27,"v":9},{"t":28,"v":-8},{"t":29,"v":7},{"t":30,"v":-4},{"t":31,"v":-10},{"t":32,"v":13},{"t":33,"v":-9},{"t":34,"v":3},{"t":35,"v":-5},{"t":36,"v":8},{"t":37,"v":-7},{"t":38,"v":4},{"t":39,"v":-8},{"t":40,"v":-4},{"t":41,"v":8},{"t":42,"v":-10},{"t":43,"v":3},{"t":44,"v":-7},{"t":45,"v":12},{"t":46,"v":-1},{"t":47,"v":-9},{"t":48,"v":5},{"t":49,"v":10},{"t":50,"v":-8},{"t":51,"v":-3},{"t":52,"v":9},{"t":53,"v":-12},{"t":54,"v":4},{"t":55,"v":-5},{"t":56,"v":13},{"t":57,"v":-7},{"t":58,"v":1},{"t":59,"v":-10},{"t":60,"v":8},{"t":61,"v":-4},{"t":62,"v":7},{"t":63,"v":-13},{"t":64,"v":10},{"t":65,"v":0},{"t":66,"v":-8},{"t":67,"v":5},{"t":68,"v":-9},{"t":69,"v":12},{"t":70,"v":-3},{"t":71,"v":4},{"t":72,"v":-12},{"t":73,"v":9},{"t":74,"v":-5},{"t":75,"v":3},{"t":76,"v":-8},{"t":77,"v":14},{"t":78,"v":-10},{"t":79,"v":7},{"t":80,"v":-4},{"t":81,"v":-1},{"t":82,"v":8},{"t":83,"v":-9},{"t":84,"v":10},{"t":85,"v":-7},{"t":86,"v":5},{"t":87,"v":-13},{"t":88,"v":4},{"t":89,"v":9},{"t":90,"v":-8},{"t":91,"v":3},{"t":92,"v":-10},{"t":93,"v":12},{"t":94,"v":-5},{"t":95,"v":7},{"t":96,"v":-3},{"t":97,"v":-12},{"t":98,"v":8},{"t":99,"v":1},{"t":100,"v":-9},{"t":101,"v":13},{"t":102,"v":-7},{"t":103,"v":-4},{"t":104,"v":10},{"t":105,"v":-8},{"t":106,"v":5},{"t":107,"v":-1},{"t":108,"v":9},{"t":109,"v":-12},{"t":110,"v":-18},{"t":111,"v":7},{"t":112,"v":-12},{"t":113,"v":3},{"t":114,"v":10},{"t":115,"v":-8},{"t":116,"v":5},{"t":117,"v":-3},{"t":118,"v":-10},{"t":119,"v":9},{"t":120,"v":-7},{"t":121,"v":4},{"t":122,"v":13},{"t":123,"v":-9},{"t":124,"v":1},{"t":125,"v":-5},{"t":126,"v":8},{"t":127,"v":-12},{"t":128,"v":10},{"t":129,"v":-4},{"t":130,"v":7},{"t":131,"v":-8},{"t":132,"v":3},{"t":133,"v":12},{"t":134,"v":-10},{"t":135,"v":5},{"t":136,"v":-1},{"t":137,"v":-9},{"t":138,"v":8},{"t":139,"v":-7},{"t":140,"v":4},{"t":141,"v":10},{"t":142,"v":-13},{"t":143,"v":9},{"t":144,"v":-3},{"t":145,"v":5},{"t":146,"v":-8},{"t":147,"v":7},{"t":148,"v":-4},{"t":149,"v":8},{"t":150,"v":4},{"t":151,"v":-8},{"t":152,"v":10},{"t":153,"v":-3},{"t":154,"v":7},{"t":155,"v":-12},{"t":156,"v":1},{"t":157,"v":9},{"t":158,"v":-5},{"t":159,"v":-10},{"t":160,"v":8},{"t":161,"v":3},{"t":162,"v":-9},{"t":163,"v":12},{"t":164,"v":-4},{"t":165,"v":5},{"t":166,"v":-13},{"t":167,"v":7},{"t":168,"v":-1},{"t":169,"v":10},{"t":170,"v":-8},{"t":171,"v":4},{"t":172,"v":-7},{"t":173,"v":13},{"t":174,"v":-10},{"t":175,"v":0},{"t":176,"v":8},{"t":177,"v":-5},{"t":178,"v":9},{"t":179,"v":-12},{"t":180,"v":3},{"t":181,"v":-4},{"t":182,"v":12},{"t":183,"v":-9},{"t":184,"v":5},{"t":185,"v":-3},{"t":186,"v":8},{"t":187,"v":-14},{"t":188,"v":10},{"t":189,"v":-7},{"t":190,"v":4},{"t":191,"v":1},{"t":192,"v":-8},{"t":193,"v":9},{"t":194,"v":-10},{"t":195,"v":7},{"t":196,"v":-5},{"t":197,"v":13},{"t":198,"v":-4},{"t":199,"v":-9},{"t":200,"v":8},{"t":201,"v":-3},{"t":202,"v":10},{"t":203,"v":-12},{"t":204,"v":5},{"t":205,"v":-7},{"t":206,"v":3},{"t":207,"v":12},{"t":208,"v":-8},{"t":209,"v":-1},{"t":210,"v":9},{"t":211,"v":-13},{"t":212,"v":7},{"t":213,"v":4},{"t":214,"v":-10},{"t":215,"v":8},{"t":216,"v":-5}],
"c17":[{"t":0,"v":4},{"t":1,"v":-22},{"t":2,"v":9},{"t":3,"v":1},{"t":4,"v":-5},{"t":5,"v":10},{"t":6,"v":-12},{"t":7,"v":-3},{"t":8,"v":8},{"t":9,"v":-7},{"t":10,"v":-8},{"t":11,"v":4},{"t":12,"v":-7},{"t":13,"v":8},{"t":14,"v":-5},{"t":15,"v":3},{"t":16,"v":-9},{"t":17,"v":13},{"t":18,"v":-10},{"t":19,"v":-4},{"t":20,"v":10},{"t":21,"v":5},{"t":22,"v":-9},{"t":23,"v":-1},{"t":24,"v":12},{"t":25,"v":-7},{"t":26,"v":3},{"t":27,"v":-10},{"t":28,"v":8},{"t":29,"v":-4},{"t":30,"v":-10},{"t":31,"v":1},{"t":32,"v":-7},{"t":33,"v":13},{"t":34,"v":-5},{"t":35,"v":4},{"t":36,"v":-12},{"t":37,"v":9},{"t":38,"v":-3},{"t":39,"v":-8},{"t":40,"v":12},{"t":41,"v":-9},{"t":42,"v":5},{"t":43,"v":-8},{"t":44,"v":0},{"t":45,"v":10},{"t":46,"v":-13},{"t":47,"v":7},{"t":48,"v":-4},{"t":49,"v":8},{"t":50,"v":7},{"t":51,"v":-10},{"t":52,"v":14},{"t":53,"v":-8},{"t":54,"v":3},{"t":55,"v":-5},{"t":56,"v":9},{"t":57,"v":-12},{"t":58,"v":4},{"t":59,"v":-3},{"t":60,"v":9},{"t":61,"v":4},{"t":62,"v":-13},{"t":63,"v":5},{"t":64,"v":-7},{"t":65,"v":10},{"t":66,"v":-9},{"t":67,"v":8},{"t":68,"v":-1},{"t":69,"v":-4},{"t":70,"v":1},{"t":71,"v":8},{"t":72,"v":-12},{"t":73,"v":-3},{"t":74,"v":7},{"t":75,"v":-5},{"t":76,"v":12},{"t":77,"v":-10},{"t":78,"v":3},{"t":79,"v":-8},{"t":80,"v":-12},{"t":81,"v":9},{"t":82,"v":-1},{"t":83,"v":5},{"t":84,"v":-8},{"t":85,"v":10},{"t":86,"v":-4},{"t":87,"v":-7},{"t":88,"v":13},{"t":89,"v":-9},{"t":90,"v":-9},{"t":91,"v":10},{"t":92,"v":3},{"t":93,"v":-5},{"t":94,"v":8},{"t":95,"v":-10},{"t":96,"v":-3},{"t":97,"v":12},{"t":98,"v":-7},{"t":99,"v":4},{"t":100,"v":4},{"t":101,"v":-10},{"t":102,"v":12},{"t":103,"v":-8},{"t":104,"v":5},{"t":105,"v":-1},{"t":106,"v":9},{"t":107,"v":-13},{"t":108,"v":-4},{"t":109,"v":7},{"t":110,"v":-7},{"t":111,"v":8},{"t":112,"v":-9},{"t":113,"v":-1},{"t":114,"v":5},{"t":115,"v":-10},{"t":116,"v":12},{"t":117,"v":3},{"t":118,"v":-8},{"t":119,"v":7},{"t":120,"v":8},{"t":121,"v":-4},{"t":122,"v":7},{"t":123,"v":-8},{"t":124,"v":5},{"t":125,"v":-3},{"t":126,"v":9},{"t":127,"v":-13},{"t":128,"v":10},{"t":129,"v":4},{"t":130,"v":-10},{"t":131,"v":-5},{"t":132,"v":9},{"t":133,"v":1},{"t":134,"v":-12},{"t":135,"v":7},{"t":136,"v":-3},{"t":137,"v":10},{"t":138,"v":-8},{"t":139,"v":4},{"t":140,"v":10},{"t":141,"v":-1},{"t":142,"v":7},{"t":143,"v":-13},{"t":144,"v":5},{"t":145,"v":-4},{"t":146,"v":12},{"t":147,"v":-9},{"t":148,"v":3},{"t":149,"v":8},{"t":150,"v":-12},{"t":151,"v":9},{"t":152,"v":-5},{"t":153,"v":8},{"t":154,"v":0},{"t":155,"v":-10},{"t":156,"v":13},{"t":157,"v":-7},{"t":158,"v":4},{"t":159,"v":-8},{"t":160,"v":-7},{"t":161,"v":10},{"t":162,"v":-14},{"t":163,"v":8},{"t":164,"v":-3},{"t":165,"v":5},{"t":166,"v":-9},{"t":167,"v":12},{"t":168,"v":-4},{"t":169,"v":3},{"t":170,"v":-9},{"t":171,"v":-4},{"t":172,"v":13},{"t":173,"v":-5},{"t":174,"v":7},{"t":175,"v":-10},{"t":176,"v":9},{"t":177,"v":-8},{"t":178,"v":1},{"t":179,"v":4},{"t":180,"v":-1},{"t":181,"v":-8},{"t":182,"v":12},{"t":183,"v":3},{"t":184,"v":-7},{"t":185,"v":5},{"t":186,"v":-12},{"t":187,"v":10},{"t":188,"v":-3},{"t":189,"v":8},{"t":190,"v":12},{"t":191,"v":-9},{"t":192,"v":1},{"t":193,"v":-5},{"t":194,"v":8},{"t":195,"v":-10},{"t":196,"v":4},{"t":197,"v":7},{"t":198,"v":-13},{"t":199,"v":9},{"t":200,"v":9},{"t":201,"v":-10},{"t":202,"v":-3},{"t":203,"v":5},{"t":204,"v":-8},{"t":205,"v":10},{"t":206,"v":3},{"t":207,"v":-12},{"t":208,"v":7},{"t":209,"v":-4},{"t":210,"v":-4},{"t":211,"v":10},{"t":212,"v":-12},{"t":213,"v":8},{"t":214,"v":-5},{"t":215,"v":1},{"t":216,"v":-9}],
"c24":[{"t":0,"v":4},{"t":1,"v":10},{"t":2,"v":-13},{"t":3,"v":9},{"t":4,"v":-3},{"t":5,"v":5},{"t":6,"v":-8},{"t":7,"v":7},{"t":8,"v":-4},{"t":9,"v":8},{"t":10,"v":4},{"t":11,"v":-8},{"t":12,"v":10},{"t":13,"v":-3},{"t":14,"v":7},{"t":15,"v":-12},{"t":16,"v":1},{"t":17,"v":9},{"t":18,"v":-5},{"t":19,"v":-10},{"t":20,"v":8},{"t":21,"v":3},{"t":22,"v":-9},{"t":23,"v":12},{"t":24,"v":-4},{"t":25,"v":5},{"t":26,"v":-13},{"t":27,"v":7},{"t":28,"v":-1},{"t":29,"v":10},{"t":30,"v":-8},{"t":31,"v":4},{"t":32,"v":-7},{"t":33,"v":13},{"t":34,"v":-10},{"t":35,"v":0},{"t":36,"v":8},{"t":37,"v":-5},{"t":38,"v":9},{"t":39,"v":-12},{"t":40,"v":3},{"t":41,"v":-4},{"t":42,"v":12},{"t":43,"v":-9},{"t":44,"v":5},{"t":45,"v":-3},{"t":46,"v":8},{"t":47,"v":-14},{"t":48,"v":10},{"t":49,"v":-7},{"t":50,"v":4},{"t":51,"v":1},{"t":52,"v":-8},{"t":53,"v":9},{"t":54,"v":-10},{"t":55,"v":7},{"t":56,"v":-5},{"t":57,"v":13},{"t":58,"v":-4},{"t":59,"v":-9},{"t":60,"v":8},{"t":61,"v":-3},{"t":62,"v":10},{"t":63,"v":-12},{"t":64,"v":5},{"t":65,"v":-7},{"t":66,"v":3},{"t":67,"v":12},{"t":68,"v":-8},{"t":69,"v":-1},{"t":70,"v":9},{"t":71,"v":-13},{"t":72,"v":7},{"t":73,"v":4},{"t":74,"v":-10},{"t":75,"v":8},{"t":76,"v":-5},{"t":77,"v":1},{"t":78,"v":-9},{"t":79,"v":12},{"t":80,"v":-4},{"t":81,"v":7},{"t":82,"v":-12},{"t":83,"v":3},{"t":84,"v":10},{"t":85,"v":-8},{"t":86,"v":5},{"t":87,"v":-3},{"t":88,"v":-10},{"t":89,"v":9},{"t":90,"v":-7},{"t":91,"v":4},{"t":92,"v":13},{"t":93,"v":-9},{"t":94,"v":1},{"t":95,"v":-5},{"t":96,"v":8},{"t":97,"v":-12},{"t":98,"v":10},{"t":99,"v":-4},{"t":100,"v":7},{"t":101,"v":-8},{"t":102,"v":3},{"t":103,"v":12},{"t":104,"v":-10},{"t":105,"v":5},{"t":106,"v":-1},{"t":107,"v":-9},{"t":108,"v":8},{"t":109,"v":-7},{"t":110,"v":-4},{"t":111,"v":-10},{"t":112,"v":13},{"t":113,"v":-9},{"t":114,"v":3},{"t":115,"v":-5},{"t":116,"v":8},{"t":117,"v":-7},{"t":118,"v":4},{"t":119,"v":-8},{"t":120,"v":-4},{"t":121,"v":8},{"t":122,"v":-10},{"t":123,"v":3},{"t":124,"v":-7},{"t":125,"v":12},{"t":126,"v":-1},{"t":127,"v":-9},{"t":128,"v":5},{"t":129,"v":10},{"t":130,"v":-8},{"t":131,"v":-3},{"t":132,"v":9},{"t":133,"v":-12},{"t":134,"v":4},{"t":135,"v":-5},{"t":136,"v":13},{"t":137,"v":-7},{"t":138,"v":1},{"t":139,"v":-10},{"t":140,"v":8},{"t":141,"v":-4},{"t":142,"v":7},{"t":143,"v":-13},{"t":144,"v":10},{"t":145,"v":0},{"t":146,"v":-8},{"t":147,"v":5},{"t":148,"v":-9},{"t":149,"v":12},{"t":150,"v":-3},{"t":151,"v":4},{"t":152,"v":-12},{"t":153,"v":9},{"t":154,"v":-5},{"t":155,"v":3},{"t":156,"v":20},{"t":157,"v":-8},{"t":158,"v":-10},{"t":159,"v":7},{"t":160,"v":-4},{"t":161,"v":-1},{"t":162,"v":8},{"t":163,"v":-9},{"t":164,"v":10},{"t":165,"v":-7},{"t":166,"v":5},{"t":167,"v":-13},{"t":168,"v":4},{"t":169,"v":9},{"t":170,"v":-8},{"t":171,"v":3},{"t":172,"v":-10},{"t":173,"v":12},{"t":174,"v":-5},{"t":175,"v":7},{"t":176,"v":-3},{"t":177,"v":-12},{"t":178,"v":8},{"t":179,"v":1},{"t":180,"v":-9},{"t":181,"v":13},{"t":182,"v":22},{"t":183,"v":-4},{"t":184,"v":10},{"t":185,"v":-8},{"t":186,"v":5},{"t":187,"v":-1},{"t":188,"v":-16},{"t":189,"v":6},{"t":190,"v":4},{"t":191,"v":-7},{"t":192,"v":12},{"t":193,"v":-3},{"t":194,"v":-10},{"t":195,"v":8},{"t":196,"v":-5},{"t":197,"v":3},{"t":198,"v":10},{"t":199,"v":-9},{"t":200,"v":7},{"t":201,"v":-4},{"t":202,"v":-13},{"t":203,"v":9},{"t":204,"v":-1},{"t":205,"v":5},{"t":206,"v":-8},{"t":207,"v":12},{"t":208,"v":-10},{"t":209,"v":4},{"t":210,"v":-7},{"t":211,"v":8},{"t":212,"v":-3},{"t":213,"v":-12},{"t":214,"v":10},{"t":215,"v":-5},{"t":216,"v":1}],
"c29":[{"t":0,"v":-10},{"t":1,"v":-20},{"t":2,"v":7},{"t":3,"v":-13},{"t":4,"v":10},{"t":5,"v":0},{"t":6,"v":-8},{"t":7,"v":5},{"t":8,"v":-9},{"t":9,"v":12},{"t":10,"v":-3},{"t":11,"v":4},{"t":12,"v":-12},{"t":13,"v":9},{"t":14,"v":-5},{"t":15,"v":3},{"t":16,"v":-8},{"t":17,"v":14},{"t":18,"v":-10},{"t":19,"v":7},{"t":20,"v":-4},{"t":21,"v":-1},{"t":22,"v":8},{"t":23,"v":-9},{"t":24,"v":10},{"t":25,"v":-7},{"t":26,"v":5},{"t":27,"v":-13},{"t":28,"v":4},{"t":29,"v":9},{"t":30,"v":-8},{"t":31,"v":3},{"t":32,"v":-10},{"t":33,"v":12},{"t":34,"v":-5},{"t":35,"v":7},{"t":36,"v":-3},{"t":37,"v":-12},{"t":38,"v":8},{"t":39,"v":1},{"t":40,"v":-9},{"t":41,"v":13},{"t":42,"v":-7},{"t":43,"v":-4},{"t":44,"v":10},{"t":45,"v":-8},{"t":46,"v":5},{"t":47,"v":-1},{"t":48,"v":9},{"t":49,"v":-12},{"t":50,"v":4},{"t":51,"v":-7},{"t":52,"v":12},{"t":53,"v":-3},{"t":54,"v":-10},{"t":55,"v":8},{"t":56,"v":-5},{"t":57,"v":3},{"t":58,"v":10},{"t":59,"v":-9},{"t":60,"v":7},{"t":61,"v":-4},{"t":62,"v":-13},{"t":63,"v":9},{"t":64,"v":-1},{"t":65,"v":5},{"t":66,"v":-8},{"t":67,"v":12},{"t":68,"v":-10},{"t":69,"v":4},{"t":70,"v":-7},{"t":71,"v":8},{"t":72,"v":-3},{"t":73,"v":-12},{"t":74,"v":10},{"t":75,"v":-5},{"t":76,"v":1},{"t":77,"v":9},{"t":78,"v":-8},{"t":79,"v":7},{"t":80,"v":-4},{"t":81,"v":-10},{"t":82,"v":13},{"t":83,"v":-9},{"t":84,"v":3},{"t":85,"v":-5},{"t":86,"v":8},{"t":87,"v":-7},{"t":88,"v":4},{"t":89,"v":-8},{"t":90,"v":-4},{"t":91,"v":8},{"t":92,"v":-10},{"t":93,"v":3},{"t":94,"v":-7},{"t":95,"v":12},{"t":96,"v":-1},{"t":97,"v":-9},{"t":98,"v":5},{"t":99,"v":10},{"t":100,"v":-8},{"t":101,"v":-24},{"t":102,"v":9},{"t":103,"v":-12},{"t":104,"v":4},{"t":105,"v":-5},{"t":106,"v":13},{"t":107,"v":-7},{"t":108,"v":1},{"t":109,"v":-10},{"t":110,"v":-8},{"t":111,"v":4},{"t":112,"v":-7},{"t":113,"v":13},{"t":114,"v":-10},{"t":115,"v":0},{"t":116,"v":8},{"t":117,"v":-5},{"t":118,"v":9},{"t":119,"v":-12},{"t":120,"v":3},{"t":121,"v":-4},{"t":122,"v":12},{"t":123,"v":-9},{"t":124,"v":5},{"t":125,"v":-3},{"t":126,"v":8},{"t":127,"v":-14},{"t":128,"v":10},{"t":129,"v":-7},{"t":130,"v":4},{"t":131,"v":1},{"t":132,"v":-8},{"t":133,"v":9},{"t":134,"v":-10},{"t":135,"v":7},{"t":136,"v":-5},{"t":137,"v":13},{"t":138,"v":-4},{"t":139,"v":-9},{"t":140,"v":8},{"t":141,"v":-3},{"t":142,"v":10},{"t":143,"v":-12},{"t":144,"v":5},{"t":145,"v":-7},{"t":146,"v":3},{"t":147,"v":12},{"t":148,"v":-8},{"t":149,"v":-1},{"t":150,"v":9},{"t":151,"v":-13},{"t":152,"v":7},{"t":153,"v":4},{"t":154,"v":-10},{"t":155,"v":8},{"t":156,"v":-5},{"t":157,"v":1},{"t":158,"v":-9},{"t":159,"v":12},{"t":160,"v":-4},{"t":161,"v":7},{"t":162,"v":-12},{"t":163,"v":3},{"t":164,"v":10},{"t":165,"v":-8},{"t":166,"v":5},{"t":167,"v":-3},{"t":168,"v":-10},{"t":169,"v":9},{"t":170,"v":-7},{"t":171,"v":4},{"t":172,"v":13},{"t":173,"v":-9},{"t":174,"v":1},{"t":175,"v":-5},{"t":176,"v":8},{"t":177,"v":-12},{"t":178,"v":10},{"t":179,"v":-4},{"t":180,"v":7},{"t":181,"v":-8},{"t":182,"v":3},{"t":183,"v":12},{"t":184,"v":-10},{"t":185,"v":5},{"t":186,"v":-1},{"t":187,"v":-9},{"t":188,"v":8},{"t":189,"v":-7},{"t":190,"v":4},{"t":191,"v":10},{"t":192,"v":-13},{"t":193,"v":9},{"t":194,"v":-3},{"t":195,"v":5},{"t":196,"v":-8},{"t":197,"v":7},{"t":198,"v":-4},{"t":199,"v":8},{"t":200,"v":4},{"t":201,"v":-8},{"t":202,"v":10},{"t":203,"v":-3},{"t":204,"v":7},{"t":205,"v":-12},{"t":206,"v":1},{"t":207,"v":9},{"t":208,"v":-5},{"t":209,"v":-10},{"t":210,"v":8},{"t":211,"v":3},{"t":212,"v":-9},{"t":213,"v":12},{"t":214,"v":-4},{"t":215,"v":5},{"t":216,"v":-13}],
"c45":[{"t":0,"v":-6},{"t":1,"v":4},{"t":2,"v":5},{"t":3,"v":28},{"t":4,"v":-14},{"t":5,"v":-7},{"t":6,"v":3},{"t":7,"v":-10},{"t":8,"v":8},{"t":9,"v":-4},{"t":10,"v":-10},{"t":11,"v":1},{"t":12,"v":-7},{"t":13,"v":13},{"t":14,"v":-5},{"t":15,"v":4},{"t":16,"v":-12},{"t":17,"v":9},{"t":18,"v":-3},{"t":19,"v":-8},{"t":20,"v":12},{"t":21,"v":-9},{"t":22,"v":5},{"t":23,"v":-8},{"t":24,"v":0},{"t":25,"v":10},{"t":26,"v":-13},{"t":27,"v":7},{"t":28,"v":-4},{"t":29,"v":8},{"t":30,"v":7},{"t":31,"v":-10},{"t":32,"v":14},{"t":33,"v":-8},{"t":34,"v":3},{"t":35,"v":-5},{"t":36,"v":9},{"t":37,"v":-12},{"t":38,"v":4},{"t":39,"v":-3},{"t":40,"v":9},{"t":41,"v":4},{"t":42,"v":-13},{"t":43,"v":5},{"t":44,"v":-7},{"t":45,"v":10},{"t":46,"v":-9},{"t":47,"v":8},{"t":48,"v":-1},{"t":49,"v":-4},{"t":50,"v":1},{"t":51,"v":8},{"t":52,"v":-12},{"t":53,"v":-3},{"t":54,"v":7},{"t":55,"v":-5},{"t":56,"v":12},{"t":57,"v":-10},{"t":58,"v":3},{"t":59,"v":-8},{"t":60,"v":-12},{"t":61,"v":9},{"t":62,"v":-1},{"t":63,"v":5},{"t":64,"v":-8},{"t":65,"v":10},{"t":66,"v":-4},{"t":67,"v":-7},{"t":68,"v":13},{"t":69,"v":-9},{"t":70,"v":-9},{"t":71,"v":10},{"t":72,"v":3},{"t":73,"v":-5},{"t":74,"v":8},{"t":75,"v":-10},{"t":76,"v":-3},{"t":77,"v":12},{"t":78,"v":-7},{"t":79,"v":4},{"t":80,"v":4},{"t":81,"v":-10},{"t":82,"v":12},{"t":83,"v":-8},{"t":84,"v":5},{"t":85,"v":-1},{"t":86,"v":9},{"t":87,"v":-13},{"t":88,"v":-4},{"t":89,"v":7},{"t":90,"v":7},{"t":91,"v":-8},{"t":92,"v":9},{"t":93,"v":1},{"t":94,"v":-5},{"t":95,"v":10},{"t":96,"v":-12},{"t":97,"v":-3},{"t":98,"v":8},{"t":99,"v":-7},{"t":100,"v":-8},{"t":101,"v":4},{"t":102,"v":-7},{"t":103,"v":8},{"t":104,"v":-5},{"t":105,"v":3},{"t":106,"v":-9},{"t":107,"v":13},{"t":108,"v":-10},{"t":109,"v":-4},{"t":110,"v":-10},{"t":111,"v":-5},{"t":112,"v":9},{"t":113,"v":1},{"t":114,"v":-12},{"t":115,"v":7},{"t":116,"v":-3},{"t":117,"v":10},{"t":118,"v":-8},{"t":119,"v":4},{"t":120,"v":10},{"t":121,"v":-1},{"t":122,"v":7},{"t":123,"v":-13},{"t":124,"v":5},{"t":125,"v":-4},{"t":126,"v":12},{"t":127,"v":-9},{"t":128,"v":3},{"t":129,"v":8},{"t":130,"v":-12},{"t":131,"v":9},{"t":132,"v":-5},{"t":133,"v":8},{"t":134,"v":0},{"t":135,"v":-10},{"t":136,"v":13},{"t":137,"v":-7},{"t":138,"v":4},{"t":139,"v":-8},{"t":140,"v":-7},{"t":141,"v":10},{"t":142,"v":-14},{"t":143,"v":8},{"t":144,"v":-16},{"t":145,"v":5},{"t":146,"v":-9},{"t":147,"v":12},{"t":148,"v":-4},{"t":149,"v":3},{"t":150,"v":-9},{"t":151,"v":-4},{"t":152,"v":13},{"t":153,"v":-5},{"t":154,"v":7},{"t":155,"v":28},{"t":156,"v":-12},{"t":157,"v":-8},{"t":158,"v":1},{"t":159,"v":4},{"t":160,"v":-1},{"t":161,"v":-8},{"t":162,"v":12},{"t":163,"v":3},{"t":164,"v":-7},{"t":165,"v":5},{"t":166,"v":-12},{"t":167,"v":10},{"t":168,"v":-3},{"t":169,"v":8},{"t":170,"v":12},{"t":171,"v":-9},{"t":172,"v":1},{"t":173,"v":-5},{"t":174,"v":8},{"t":175,"v":-10},{"t":176,"v":4},{"t":177,"v":7},{"t":178,"v":-13},{"t":179,"v":9},{"t":180,"v":9},{"t":181,"v":-10},{"t":182,"v":-3},{"t":183,"v":5},{"t":184,"v":-8},{"t":185,"v":10},{"t":186,"v":-24},{"t":187,"v":6},{"t":188,"v":7},{"t":189,"v":-4},{"t":190,"v":-4},{"t":191,"v":10},{"t":192,"v":-12},{"t":193,"v":8},{"t":194,"v":-5},{"t":195,"v":1},{"t":196,"v":-9},{"t":197,"v":13},{"t":198,"v":4},{"t":199,"v":-7},{"t":200,"v":-7},{"t":201,"v":8},{"t":202,"v":-9},{"t":203,"v":-1},{"t":204,"v":5},{"t":205,"v":-10},{"t":206,"v":12},{"t":207,"v":3},{"t":208,"v":-8},{"t":209,"v":7},{"t":210,"v":8},{"t":211,"v":-4},{"t":212,"v":7},{"t":213,"v":-8},{"t":214,"v":5},{"t":215,"v":-3},{"t":216,"v":9}],
"c60":[{"t":0,"v":4},{"t":1,"v":1},{"t":2,"v":-8},{"t":3,"v":9},{"t":4,"v":-10},{"t":5,"v":7},{"t":6,"v":-5},{"t":7,"v":13},{"t":8,"v":-4},{"t":9,"v":-9},{"t":10,"v":8},{"t":11,"v":-3},{"t":12,"v":10},{"t":13,"v":-12},{"t":14,"v":5},{"t":15,"v":-7},{"t":16,"v":3},{"t":17,"v":12},{"t":18,"v":-8},{"t":19,"v":-1},{"t":20,"v":9},{"t":21,"v":-13},{"t":22,"v":7},{"t":23,"v":4},{"t":24,"v":-10},{"t":25,"v":8},{"t":26,"v":-5},{"t":27,"v":1},{"t":28,"v":-9},{"t":29,"v":12},{"t":30,"v":-4},{"t":31,"v":7},{"t":32,"v":-12},{"t":33,"v":3},{"t":34,"v":10},{"t":35,"v":-8},{"t":36,"v":5},{"t":37,"v":-3},{"t":38,"v":-10},{"t":39,"v":9},{"t":40,"v":-7},{"t":41,"v":4},{"t":42,"v":13},{"t":43,"v":-9},{"t":44,"v":1},{"t":45,"v":-5},{"t":46,"v":8},{"t":47,"v":-12},{"t":48,"v":10},{"t":49,"v":-4},{"t":50,"v":7},{"t":51,"v":-8},{"t":52,"v":3},{"t":53,"v":12},{"t":54,"v":-10},{"t":55,"v":5},{"t":56,"v":-1},{"t":57,"v":-9},{"t":58,"v":8},{"t":59,"v":-7},{"t":60,"v":4},{"t":61,"v":10},{"t":62,"v":-13},{"t":63,"v":9},{"t":64,"v":-3},{"t":65,"v":5},{"t":66,"v":-8},{"t":67,"v":7},{"t":68,"v":-4},{"t":69,"v":8},{"t":70,"v":4},{"t":71,"v":-8},{"t":72,"v":10},{"t":73,"v":-3},{"t":74,"v":7},{"t":75,"v":-12},{"t":76,"v":1},{"t":77,"v":9},{"t":78,"v":-5},{"t":79,"v":-10},{"t":80,"v":8},{"t":81,"v":3},{"t":82,"v":-9},{"t":83,"v":12},{"t":84,"v":-4},{"t":85,"v":5},{"t":86,"v":-13},{"t":87,"v":7},{"t":88,"v":-1},{"t":89,"v":10},{"t":90,"v":-8},{"t":91,"v":4},{"t":92,"v":-7},{"t":93,"v":13},{"t":94,"v":-10},{"t":95,"v":0},{"t":96,"v":8},{"t":97,"v":-5},{"t":98,"v":9},{"t":99,"v":-12},{"t":100,"v":3},{"t":101,"v":-4},{"t":102,"v":12},{"t":103,"v":-9},{"t":104,"v":5},{"t":105,"v":-3},{"t":106,"v":8},{"t":107,"v":-14},{"t":108,"v":10},{"t":109,"v":-7},{"t":110,"v":-4},{"t":111,"v":-1},{"t":112,"v":8},{"t":113,"v":-9},{"t":114,"v":10},{"t":115,"v":-7},{"t":116,"v":5},{"t":117,"v":-13},{"t":118,"v":4},{"t":119,"v":9},{"t":120,"v":-8},{"t":121,"v":3},{"t":122,"v":-10},{"t":123,"v":12},{"t":124,"v":-5},{"t":125,"v":7},{"t":126,"v":-3},{"t":127,"v":-12},{"t":128,"v":8},{"t":129,"v":1},{"t":130,"v":-9},{"t":131,"v":13},{"t":132,"v":-7},{"t":133,"v":-4},{"t":134,"v":10},{"t":135,"v":-8},{"t":136,"v":5},{"t":137,"v":-1},{"t":138,"v":9},{"t":139,"v":-12},{"t":140,"v":4},{"t":141,"v":-7},{"t":142,"v":12},{"t":143,"v":-3},{"t":144,"v":-10},{"t":145,"v":8},{"t":146,"v":-5},{"t":147,"v":3},{"t":148,"v":10},{"t":149,"v":-9},{"t":150,"v":7},{"t":151,"v":-4},{"t":152,"v":-13},{"t":153,"v":9},{"t":154,"v":-1},{"t":155,"v":5},{"t":156,"v":-8},{"t":157,"v":12},{"t":158,"v":-10},{"t":159,"v":4},{"t":160,"v":-7},{"t":161,"v":8},{"t":162,"v":-3},{"t":163,"v":-12},{"t":164,"v":10},{"t":165,"v":-5},{"t":166,"v":1},{"t":167,"v":9},{"t":168,"v":-8},{"t":169,"v":7},{"t":170,"v":-4},{"t":171,"v":-10},{"t":172,"v":13},{"t":173,"v":-9},{"t":174,"v":3},{"t":175,"v":-5},{"t":176,"v":8},{"t":177,"v":-7},{"t":178,"v":4},{"t":179,"v":-8},{"t":180,"v":-4},{"t":181,"v":8},{"t":182,"v":-10},{"t":183,"v":3},{"t":184,"v":-7},{"t":185,"v":12},{"t":186,"v":-1},{"t":187,"v":-9},{"t":188,"v":5},{"t":189,"v":10},{"t":190,"v":-8},{"t":191,"v":-3},{"t":192,"v":9},{"t":193,"v":-12},{"t":194,"v":4},{"t":195,"v":-5},{"t":196,"v":13},{"t":197,"v":-7},{"t":198,"v":1},{"t":199,"v":-10},{"t":200,"v":8},{"t":201,"v":-4},{"t":202,"v":7},{"t":203,"v":-13},{"t":204,"v":10},{"t":205,"v":0},{"t":206,"v":-8},{"t":207,"v":5},{"t":208,"v":-9},{"t":209,"v":12},{"t":210,"v":-3},{"t":211,"v":4},{"t":212,"v":-12},{"t":213,"v":9},{"t":214,"v":-5},{"t":215,"v":3},{"t":216,"v":-8}],
"starsA":[{"c":"e48","t":21.5},{"c":"e48","t":86},{"c":"e48","t":163},{"c":"e48","t":208},{"c":"e49","t":21.4},{"c":"e49","t":87},{"c":"e49","t":110},{"c":"e52","t":9},{"c":"e52","t":22},{"c":"e52","t":27},{"c":"e52","t":44},{"c":"e52","t":58},{"c":"e52","t":74},{"c":"e52","t":86},{"c":"e52","t":92},{"c":"e52","t":126},{"c":"e52","t":140},{"c":"e52","t":147},{"c":"e52","t":169},{"c":"e52","t":194},{"c":"e54","t":43},{"c":"e54","t":148},{"c":"e55","t":43},{"c":"e55","t":148}],
"starsC":[{"c":"e9","t":0.4},{"c":"e45","t":3},{"c":"e45","t":155}],
"sbA":[{"g":"h","t":198.75,"v":43.8},{"g":"h","t":224.2,"v":43.8},{"g":"v","t":224.2,"v":43.8},{"g":"v","t":224.2,"v":-30.4}],
"sbB":[{"g":"h","t":4.51,"v":-3.95},{"g":"h","t":5.51,"v":-3.95},{"g":"v","t":5.51,"v":-3.95},{"g":"v","t":5.51,"v":-1.95}],
"wave":[
{"k":1,"t":0,"v":-0.1},{"k":1,"t":0.25,"v":0.3},{"k":1,"t":0.5,"v":1.1},{"k":1,"t":0.7,"v":0.6},{"k":1,"t":0.9,"v":-2.0},{"k":1,"t":1.12,"v":-4.0},{"k":1,"t":1.35,"v":-2.6},{"k":1,"t":1.6,"v":-0.6},{"k":1,"t":1.85,"v":1.6},{"k":1,"t":2.1,"v":3.8},{"k":1,"t":2.35,"v":3.0},{"k":1,"t":2.6,"v":1.9},{"k":1,"t":2.85,"v":0.6},{"k":1,"t":3.1,"v":-0.4},{"k":1,"t":3.4,"v":-1.4},{"k":1,"t":3.7,"v":-1.7},{"k":1,"t":4.1,"v":-1.5},{"k":1,"t":4.5,"v":-1.1},{"k":1,"t":4.9,"v":-0.6},{"k":1,"t":5.3,"v":-0.1},{"k":1,"t":5.7,"v":0.2},{"k":1,"t":6.1,"v":0.1},
{"k":2,"t":0,"v":0.6},{"k":2,"t":0.25,"v":0.8},{"k":2,"t":0.5,"v":1.2},{"k":2,"t":0.7,"v":0.9},{"k":2,"t":0.9,"v":-1.6},{"k":2,"t":1.12,"v":-3.8},{"k":2,"t":1.35,"v":-2.8},{"k":2,"t":1.6,"v":-0.9},{"k":2,"t":1.85,"v":1.3},{"k":2,"t":2.1,"v":3.6},{"k":2,"t":2.35,"v":3.1},{"k":2,"t":2.6,"v":2.0},{"k":2,"t":2.85,"v":0.8},{"k":2,"t":3.1,"v":-0.3},{"k":2,"t":3.4,"v":-1.2},{"k":2,"t":3.7,"v":-1.5},{"k":2,"t":4.1,"v":-1.6},{"k":2,"t":4.5,"v":-1.0},{"k":2,"t":4.9,"v":-0.8},{"k":2,"t":5.3,"v":0.1},{"k":2,"t":5.7,"v":0.4},{"k":2,"t":6.1,"v":-0.2},
{"k":3,"t":0,"v":-0.7},{"k":3,"t":0.25,"v":-0.4},{"k":3,"t":0.5,"v":0.8},{"k":3,"t":0.7,"v":0.4},{"k":3,"t":0.9,"v":-2.3},{"k":3,"t":1.12,"v":-4.2},{"k":3,"t":1.35,"v":-2.4},{"k":3,"t":1.6,"v":-0.4},{"k":3,"t":1.85,"v":1.8},{"k":3,"t":2.1,"v":3.9},{"k":3,"t":2.35,"v":2.9},{"k":3,"t":2.6,"v":1.7},{"k":3,"t":2.85,"v":0.5},{"k":3,"t":3.1,"v":-0.6},{"k":3,"t":3.4,"v":-1.6},{"k":3,"t":3.7,"v":-2.0},{"k":3,"t":4.1,"v":-1.3},{"k":3,"t":4.5,"v":-1.2},{"k":3,"t":4.9,"v":-0.5},{"k":3,"t":5.3,"v":-0.3},{"k":3,"t":5.7,"v":0.0},{"k":3,"t":6.1,"v":0.4},
{"k":4,"t":0,"v":0.2},{"k":4,"t":0.25,"v":0.5},{"k":4,"t":0.5,"v":1.3},{"k":4,"t":0.7,"v":0.2},{"k":4,"t":0.9,"v":-2.6},{"k":4,"t":1.12,"v":-4.3},{"k":4,"t":1.35,"v":-2.9},{"k":4,"t":1.6,"v":-0.7},{"k":4,"t":1.85,"v":1.5},{"k":4,"t":2.1,"v":3.7},{"k":4,"t":2.35,"v":3.2},{"k":4,"t":2.6,"v":2.1},{"k":4,"t":2.85,"v":0.9},{"k":4,"t":3.1,"v":-0.2},{"k":4,"t":3.4,"v":-1.0},{"k":4,"t":3.7,"v":-1.3},{"k":4,"t":4.1,"v":-1.8},{"k":4,"t":4.5,"v":-0.9},{"k":4,"t":4.9,"v":-0.4},{"k":4,"t":5.3,"v":0.2},{"k":4,"t":5.7,"v":0.6},{"k":4,"t":6.1,"v":0.3},
{"k":5,"t":0,"v":-0.9},{"k":5,"t":0.25,"v":-0.2},{"k":5,"t":0.5,"v":0.9},{"k":5,"t":0.7,"v":0.7},{"k":5,"t":0.9,"v":-1.8},{"k":5,"t":1.12,"v":-3.7},{"k":5,"t":1.35,"v":-2.5},{"k":5,"t":1.6,"v":-0.5},{"k":5,"t":1.85,"v":1.7},{"k":5,"t":2.1,"v":3.5},{"k":5,"t":2.35,"v":2.8},{"k":5,"t":2.6,"v":1.8},{"k":5,"t":2.85,"v":0.4},{"k":5,"t":3.1,"v":-0.7},{"k":5,"t":3.4,"v":-1.9},{"k":5,"t":3.7,"v":-2.4},{"k":5,"t":4.1,"v":-1.7},{"k":5,"t":4.5,"v":-1.3},{"k":5,"t":4.9,"v":-0.9},{"k":5,"t":5.3,"v":-0.4},{"k":5,"t":5.7,"v":-0.2},{"k":5,"t":6.1,"v":-0.4},
{"k":6,"t":0,"v":0.4},{"k":6,"t":0.25,"v":0.6},{"k":6,"t":0.5,"v":1.0},{"k":6,"t":0.7,"v":0.5},{"k":6,"t":0.9,"v":-2.1},{"k":6,"t":1.12,"v":-4.1},{"k":6,"t":1.35,"v":-2.7},{"k":6,"t":1.6,"v":-0.8},{"k":6,"t":1.85,"v":1.4},{"k":6,"t":2.1,"v":3.9},{"k":6,"t":2.35,"v":3.3},{"k":6,"t":2.6,"v":2.2},{"k":6,"t":2.85,"v":0.7},{"k":6,"t":3.1,"v":-0.1},{"k":6,"t":3.4,"v":-0.9},{"k":6,"t":3.7,"v":-1.4},{"k":6,"t":4.1,"v":-1.2},{"k":6,"t":4.5,"v":-0.7},{"k":6,"t":4.9,"v":-0.2},{"k":6,"t":5.3,"v":0.3},{"k":6,"t":5.7,"v":0.8},{"k":6,"t":6.1,"v":0.5},
{"k":7,"t":0,"v":-0.4},{"k":7,"t":0.25,"v":0.1},{"k":7,"t":0.5,"v":1.2},{"k":7,"t":0.7,"v":0.8},{"k":7,"t":0.9,"v":-1.9},{"k":7,"t":1.12,"v":-3.9},{"k":7,"t":1.35,"v":-2.6},{"k":7,"t":1.6,"v":-0.6},{"k":7,"t":1.85,"v":1.6},{"k":7,"t":2.1,"v":3.6},{"k":7,"t":2.35,"v":2.9},{"k":7,"t":2.6,"v":1.6},{"k":7,"t":2.85,"v":0.3},{"k":7,"t":3.1,"v":-0.8},{"k":7,"t":3.4,"v":-1.7},{"k":7,"t":3.7,"v":-1.9},{"k":7,"t":4.1,"v":-1.9},{"k":7,"t":4.5,"v":-1.4},{"k":7,"t":4.9,"v":-0.7},{"k":7,"t":5.3,"v":0.0},{"k":7,"t":5.7,"v":0.3},{"k":7,"t":6.1,"v":-0.3},
{"k":8,"t":0,"v":0.9},{"k":8,"t":0.25,"v":0.9},{"k":8,"t":0.5,"v":1.4},{"k":8,"t":0.7,"v":0.3},{"k":8,"t":0.9,"v":-2.4},{"k":8,"t":1.12,"v":-4.2},{"k":8,"t":1.35,"v":-3.0},{"k":8,"t":1.6,"v":-1.0},{"k":8,"t":1.85,"v":1.2},{"k":8,"t":2.1,"v":3.4},{"k":8,"t":2.35,"v":3.0},{"k":8,"t":2.6,"v":2.0},{"k":8,"t":2.85,"v":0.9},{"k":8,"t":3.1,"v":0.0},{"k":8,"t":3.4,"v":-1.1},{"k":8,"t":3.7,"v":-1.2},{"k":8,"t":4.1,"v":-1.0},{"k":8,"t":4.5,"v":-1.0},{"k":8,"t":4.9,"v":-0.6},{"k":8,"t":5.3,"v":0.2},{"k":8,"t":5.7,"v":0.1},{"k":8,"t":6.1,"v":0.7},
{"k":9,"t":0,"v":-0.2},{"k":9,"t":0.25,"v":0.4},{"k":9,"t":0.5,"v":1.0},{"k":9,"t":0.7,"v":0.6},{"k":9,"t":0.9,"v":-2.2},{"k":9,"t":1.12,"v":-4.0},{"k":9,"t":1.35,"v":-2.5},{"k":9,"t":1.6,"v":-0.3},{"k":9,"t":1.85,"v":1.9},{"k":9,"t":2.1,"v":4.0},{"k":9,"t":2.35,"v":3.1},{"k":9,"t":2.6,"v":1.8},{"k":9,"t":2.85,"v":0.5},{"k":9,"t":3.1,"v":-0.5},{"k":9,"t":3.4,"v":-1.5},{"k":9,"t":3.7,"v":-2.2},{"k":9,"t":4.1,"v":-1.4},{"k":9,"t":4.5,"v":-0.8},{"k":9,"t":4.9,"v":-0.3},{"k":9,"t":5.3,"v":-0.2},{"k":9,"t":5.7,"v":0.5},{"k":9,"t":6.1,"v":0.0},
{"k":10,"t":0,"v":0.1},{"k":10,"t":0.25,"v":-0.1},{"k":10,"t":0.5,"v":0.7},{"k":10,"t":0.7,"v":0.5},{"k":10,"t":0.9,"v":-1.7},{"k":10,"t":1.12,"v":-3.6},{"k":10,"t":1.35,"v":-2.6},{"k":10,"t":1.6,"v":-0.7},{"k":10,"t":1.85,"v":1.5},{"k":10,"t":2.1,"v":3.5},{"k":10,"t":2.35,"v":2.7},{"k":10,"t":2.6,"v":1.5},{"k":10,"t":2.85,"v":0.2},{"k":10,"t":3.1,"v":-0.9},{"k":10,"t":3.4,"v":-1.3},{"k":10,"t":3.7,"v":-1.6},{"k":10,"t":4.1,"v":-2.0},{"k":10,"t":4.5,"v":-1.5},{"k":10,"t":4.9,"v":-1.0},{"k":10,"t":5.3,"v":-0.5},{"k":10,"t":5.7,"v":-0.1},{"k":10,"t":6.1,"v":0.2},
{"k":11,"t":0,"v":-0.6},{"k":11,"t":0.25,"v":0.0},{"k":11,"t":0.5,"v":1.1},{"k":11,"t":0.7,"v":0.9},{"k":11,"t":0.9,"v":-2.0},{"k":11,"t":1.12,"v":-4.3},{"k":11,"t":1.35,"v":-2.8},{"k":11,"t":1.6,"v":-0.5},{"k":11,"t":1.85,"v":1.7},{"k":11,"t":2.1,"v":3.8},{"k":11,"t":2.35,"v":3.2},{"k":11,"t":2.6,"v":2.0},{"k":11,"t":2.85,"v":0.6},{"k":11,"t":3.1,"v":-0.3},{"k":11,"t":3.4,"v":-1.8},{"k":11,"t":3.7,"v":-1.4},{"k":11,"t":4.1,"v":-1.1},{"k":11,"t":4.5,"v":-1.2},{"k":11,"t":4.9,"v":-0.3},{"k":11,"t":5.3,"v":0.4},{"k":11,"t":5.7,"v":0.2},{"k":11,"t":6.1,"v":-0.5},
{"k":12,"t":0,"v":0.3},{"k":12,"t":0.25,"v":0.7},{"k":12,"t":0.5,"v":1.3},{"k":12,"t":0.7,"v":0.4},{"k":12,"t":0.9,"v":-2.5},{"k":12,"t":1.12,"v":-4.1},{"k":12,"t":1.35,"v":-2.3},{"k":12,"t":1.6,"v":-0.2},{"k":12,"t":1.85,"v":1.9},{"k":12,"t":2.1,"v":3.7},{"k":12,"t":2.35,"v":2.8},{"k":12,"t":2.6,"v":1.7},{"k":12,"t":2.85,"v":0.4},{"k":12,"t":3.1,"v":-0.6},{"k":12,"t":3.4,"v":-1.3},{"k":12,"t":3.7,"v":-1.8},{"k":12,"t":4.1,"v":-1.6},{"k":12,"t":4.5,"v":-0.6},{"k":12,"t":4.9,"v":-0.8},{"k":12,"t":5.3,"v":0.0},{"k":12,"t":5.7,"v":0.6},{"k":12,"t":6.1,"v":0.6},
{"k":13,"t":0,"v":-0.3},{"k":13,"t":0.25,"v":0.2},{"k":13,"t":0.5,"v":0.9},{"k":13,"t":0.7,"v":0.7},{"k":13,"t":0.9,"v":-1.9},{"k":13,"t":1.12,"v":-3.8},{"k":13,"t":1.35,"v":-2.7},{"k":13,"t":1.6,"v":-0.8},{"k":13,"t":1.85,"v":1.4},{"k":13,"t":2.1,"v":3.6},{"k":13,"t":2.35,"v":3.0},{"k":13,"t":2.6,"v":1.9},{"k":13,"t":2.85,"v":0.7},{"k":13,"t":3.1,"v":-0.2},{"k":13,"t":3.4,"v":-1.1},{"k":13,"t":3.7,"v":-2.1},{"k":13,"t":4.1,"v":-1.8},{"k":13,"t":4.5,"v":-1.4},{"k":13,"t":4.9,"v":-0.2},{"k":13,"t":5.3,"v":0.5},{"k":13,"t":5.7,"v":0.0},{"k":13,"t":6.1,"v":-0.1},
{"k":14,"t":0,"v":0.7},{"k":14,"t":0.25,"v":0.5},{"k":14,"t":0.5,"v":1.2},{"k":14,"t":0.7,"v":0.6},{"k":14,"t":0.9,"v":-2.2},{"k":14,"t":1.12,"v":-4.1},{"k":14,"t":1.35,"v":-2.6},{"k":14,"t":1.6,"v":-0.6},{"k":14,"t":1.85,"v":1.6},{"k":14,"t":2.1,"v":3.8},{"k":14,"t":2.35,"v":3.1},{"k":14,"t":2.6,"v":2.1},{"k":14,"t":2.85,"v":0.8},{"k":14,"t":3.1,"v":-0.4},{"k":14,"t":3.4,"v":-1.5},{"k":14,"t":3.7,"v":-1.0},{"k":14,"t":4.1,"v":-1.3},{"k":14,"t":4.5,"v":-0.9},{"k":14,"t":4.9,"v":-0.5},{"k":14,"t":5.3,"v":-0.1},{"k":14,"t":5.7,"v":0.4},{"k":14,"t":6.1,"v":0.3}],
"raster":[
{"t":112.9,"s":2},{"t":113.8,"s":2},{"t":109.5,"s":3},{"t":110.4,"s":3},{"t":39.8,"s":4},
{"t":26.5,"s":5},{"t":48.4,"s":5},{"t":49.8,"s":5},{"t":58.5,"s":5},{"t":89.8,"s":5},{"t":90.7,"s":5},
{"t":62.2,"s":6},{"t":66.7,"s":6},{"t":71.1,"s":6},{"t":77.8,"s":6},{"t":90.2,"s":6},{"t":95.1,"s":6},{"t":97.5,"s":6},
{"t":80.9,"s":7},
{"t":39.6,"s":8},{"t":40.9,"s":8},{"t":42.2,"s":8},{"t":50.7,"s":8},{"t":58.7,"s":8},{"t":64.0,"s":8},{"t":64.9,"s":8},{"t":66.2,"s":8},{"t":68.4,"s":8},{"t":74.5,"s":8},{"t":78.0,"s":8},{"t":91.6,"s":8},{"t":95.1,"s":8},
{"t":26.5,"s":9},{"t":51.1,"s":9},{"t":88.4,"s":9},{"t":91.6,"s":9},{"t":95.1,"s":9},{"t":98.2,"s":9},
{"t":55.1,"s":10},{"t":57.3,"s":10},{"t":73.8,"s":10},{"t":93.8,"s":10},
{"t":34.4,"s":11},{"t":41.2,"s":11},{"t":43.6,"s":11},{"t":44.9,"s":11},{"t":48.0,"s":11},{"t":49.8,"s":11},{"t":50.7,"s":11},{"t":51.6,"s":11},{"t":52.4,"s":11},{"t":53.3,"s":11},{"t":54.7,"s":11},{"t":56.0,"s":11},{"t":61.3,"s":11},{"t":62.6,"s":11},{"t":64.0,"s":11},{"t":65.3,"s":11},{"t":66.7,"s":11},{"t":68.0,"s":11},{"t":68.9,"s":11},{"t":76.3,"s":11},{"t":92.9,"s":11},{"t":95.6,"s":11},{"t":97.3,"s":11},
{"t":12.9,"s":12},{"t":26.5,"s":12},{"t":32.9,"s":12},{"t":53.8,"s":12},{"t":61.3,"s":12},{"t":99.1,"s":12},
{"t":12.9,"s":13},{"t":29.8,"s":13},{"t":58.7,"s":13},{"t":95.6,"s":13},{"t":99.0,"s":13},{"t":100.0,"s":13},
{"t":27.1,"s":14},{"t":92.0,"s":14},{"t":92.9,"s":14},{"t":93.8,"s":14},{"t":96.0,"s":14},{"t":96.6,"s":14},
{"t":66.2,"s":15},{"t":92.9,"s":15},{"t":94.2,"s":15},
{"t":33.6,"s":16},{"t":90.7,"s":16},{"t":91.6,"s":16},{"t":93.8,"s":16},{"t":95.6,"s":16},
{"t":17.6,"s":17},{"t":20.4,"s":17},{"t":26.7,"s":17},{"t":29.8,"s":17},{"t":35.6,"s":17},{"t":38.2,"s":17},{"t":39.6,"s":17},{"t":40.9,"s":17},{"t":42.2,"s":17},{"t":46.2,"s":17},{"t":47.1,"s":17},{"t":48.0,"s":17},{"t":48.9,"s":17},{"t":49.8,"s":17},{"t":50.7,"s":17},{"t":51.6,"s":17},{"t":52.9,"s":17},{"t":55.6,"s":17},{"t":58.7,"s":17},{"t":60.0,"s":17},{"t":63.6,"s":17},{"t":66.2,"s":17},{"t":68.0,"s":17},{"t":94.2,"s":17},{"t":95.1,"s":17},{"t":96.0,"s":17},{"t":96.9,"s":17},{"t":97.8,"s":17},{"t":98.7,"s":17},{"t":99.6,"s":17},
{"t":14.4,"s":18},{"t":36.2,"s":18},{"t":48.4,"s":18},{"t":51.1,"s":18},{"t":52.4,"s":18},{"t":53.8,"s":18},{"t":55.1,"s":18},{"t":56.4,"s":18},{"t":60.4,"s":18},{"t":63.1,"s":18},{"t":65.3,"s":18},{"t":66.7,"s":18},{"t":68.4,"s":18},{"t":73.3,"s":18},{"t":74.2,"s":18},{"t":75.6,"s":18},{"t":99.1,"s":18},
{"t":26.7,"s":19},{"t":95.7,"s":19},
{"t":46.5,"s":20},{"t":48.7,"s":20},{"t":52.9,"s":20},{"t":55.6,"s":20},{"t":56.9,"s":20},{"t":58.2,"s":20},{"t":59.6,"s":20},{"t":60.9,"s":20},{"t":62.9,"s":20},{"t":64.0,"s":20},{"t":65.3,"s":20},{"t":66.7,"s":20},{"t":68.0,"s":20},{"t":69.8,"s":20},{"t":71.8,"s":20},{"t":92.9,"s":20},{"t":93.8,"s":20},{"t":94.7,"s":20},{"t":95.6,"s":20},{"t":96.4,"s":20},{"t":97.3,"s":20},{"t":98.5,"s":20},
{"t":83.6,"s":21},{"t":93.3,"s":21},{"t":93.9,"s":21},{"t":94.5,"s":21},{"t":95.1,"s":21},{"t":95.7,"s":21},{"t":96.3,"s":21},{"t":96.9,"s":21},{"t":97.5,"s":21},{"t":98.1,"s":21},
{"t":34.4,"s":22},{"t":67.1,"s":22},{"t":67.7,"s":22},{"t":68.3,"s":22},{"t":68.9,"s":22},{"t":69.5,"s":22},{"t":70.1,"s":22},{"t":70.7,"s":22},{"t":71.3,"s":22},{"t":71.9,"s":22},{"t":72.5,"s":22},{"t":73.1,"s":22},{"t":73.7,"s":22},{"t":74.3,"s":22},{"t":74.9,"s":22},{"t":75.5,"s":22},{"t":76.1,"s":22},{"t":76.7,"s":22},{"t":77.3,"s":22},{"t":77.9,"s":22},{"t":78.5,"s":22},{"t":79.1,"s":22},{"t":79.7,"s":22},{"t":80.3,"s":22},{"t":80.9,"s":22},{"t":81.5,"s":22},{"t":82.1,"s":22},{"t":84.3,"s":22},{"t":85.3,"s":22},{"t":93.8,"s":22},{"t":95.1,"s":22},{"t":96.4,"s":22},{"t":97.8,"s":22},
{"t":63.1,"s":23},{"t":91.1,"s":23},{"t":93.3,"s":23},
{"t":36.2,"s":24},{"t":39.6,"s":24},{"t":43.4,"s":24},{"t":46.7,"s":24},{"t":48.0,"s":24},{"t":50.7,"s":24},{"t":54.7,"s":24},{"t":55.6,"s":24},{"t":56.5,"s":24},{"t":57.3,"s":24},{"t":58.2,"s":24},{"t":60.0,"s":24},{"t":63.6,"s":24},{"t":68.4,"s":24},{"t":99.1,"s":24},
{"t":63.8,"s":25},{"t":68.4,"s":25},{"t":69.3,"s":25},{"t":70.0,"s":25},{"t":70.9,"s":25},{"t":71.5,"s":25},{"t":72.1,"s":25},{"t":72.7,"s":25},{"t":73.3,"s":25},{"t":73.9,"s":25},{"t":74.5,"s":25},{"t":75.1,"s":25},{"t":75.7,"s":25},{"t":76.3,"s":25},{"t":76.9,"s":25},{"t":77.5,"s":25},{"t":78.1,"s":25},{"t":78.7,"s":25},{"t":79.4,"s":25},{"t":80.0,"s":25},{"t":80.9,"s":25},{"t":81.5,"s":25},{"t":82.1,"s":25},{"t":82.7,"s":25},{"t":84.0,"s":25},{"t":84.6,"s":25},{"t":85.2,"s":25},{"t":85.8,"s":25},{"t":86.4,"s":25},{"t":87.0,"s":25},{"t":87.6,"s":25},{"t":88.2,"s":25},{"t":88.8,"s":25},{"t":89.4,"s":25},{"t":90.0,"s":25},{"t":90.6,"s":25},{"t":91.2,"s":25},{"t":91.8,"s":25},{"t":92.4,"s":25},{"t":93.0,"s":25},{"t":93.6,"s":25},{"t":94.2,"s":25},{"t":94.8,"s":25},{"t":95.4,"s":25},{"t":96.9,"s":25},{"t":99.1,"s":25},
{"t":42.2,"s":26},{"t":62.2,"s":26},{"t":95.6,"s":26},{"t":97.8,"s":26},{"t":98.4,"s":26},{"t":99.0,"s":26},{"t":99.6,"s":26},{"t":100.2,"s":26},
{"t":14.2,"s":27},{"t":21.5,"s":27},{"t":55.6,"s":27},{"t":59.6,"s":27},{"t":60.9,"s":27},{"t":62.2,"s":27},{"t":63.6,"s":27},{"t":65.8,"s":27},{"t":67.1,"s":27},{"t":68.4,"s":27},{"t":69.8,"s":27},{"t":71.1,"s":27},{"t":86.2,"s":27},{"t":87.6,"s":27},{"t":88.9,"s":27},{"t":90.2,"s":27},{"t":92.9,"s":27},{"t":93.8,"s":27},{"t":100.0,"s":27},
{"t":20.7,"s":32},{"t":39.8,"s":33},{"t":93.6,"s":33},
{"t":26.7,"s":34},{"t":48.7,"s":34},{"t":50.0,"s":34},{"t":58.5,"s":34},{"t":90.0,"s":34},
{"t":108.9,"s":37},{"t":112.7,"s":37},{"t":26.7,"s":38},{"t":109.5,"s":38},{"t":112.7,"s":38},
{"t":84.0,"s":46},{"t":84.6,"s":46},{"t":85.2,"s":46},{"t":85.8,"s":46},{"t":86.4,"s":46},{"t":87.0,"s":46},{"t":87.6,"s":46},{"t":88.2,"s":46},{"t":88.8,"s":46},{"t":89.4,"s":46},{"t":90.0,"s":46},{"t":91.6,"s":46}],
"hist":[{"t":12.5,"n":2},{"t":13.5,"n":1},{"t":14.5,"n":1},{"t":17.5,"n":1},{"t":20.5,"n":3},{"t":21.5,"n":1},{"t":26.5,"n":12},{"t":29.5,"n":5},{"t":32.5,"n":1},{"t":33.5,"n":7},{"t":35.5,"n":3},{"t":37.5,"n":1},{"t":38.5,"n":2},{"t":39.5,"n":3},{"t":40.5,"n":4},{"t":41.5,"n":4},{"t":42.5,"n":3},{"t":43.5,"n":3},{"t":44.5,"n":2},{"t":45.5,"n":1},{"t":46.5,"n":3},{"t":47.5,"n":3},{"t":48.5,"n":3},{"t":49.5,"n":7},{"t":50.5,"n":6},{"t":51.5,"n":7},{"t":52.5,"n":6},{"t":53.5,"n":3},{"t":54.5,"n":5},{"t":55.5,"n":7},{"t":56.5,"n":6},{"t":57.5,"n":5},{"t":58.5,"n":6},{"t":59.5,"n":5},{"t":60.5,"n":3},{"t":61.5,"n":4},{"t":62.5,"n":6},{"t":63.5,"n":11},{"t":64.5,"n":5},{"t":65.5,"n":5},{"t":66.5,"n":5},{"t":67.5,"n":15},{"t":68.5,"n":23},{"t":69.5,"n":18},{"t":70.5,"n":15},{"t":71.5,"n":18},{"t":72.5,"n":13},{"t":73.5,"n":13},{"t":74.5,"n":18},{"t":75.5,"n":13},{"t":76.5,"n":14},{"t":77.5,"n":15},{"t":78.5,"n":12},{"t":79.5,"n":8},{"t":80.5,"n":4},{"t":81.5,"n":4},{"t":82.5,"n":4},{"t":83.5,"n":5},{"t":84.5,"n":3},{"t":85.5,"n":7},{"t":86.5,"n":15},{"t":87.5,"n":6},{"t":88.5,"n":4},{"t":89.5,"n":9},{"t":90.5,"n":9},{"t":91.5,"n":14},{"t":92.5,"n":11},{"t":93.5,"n":10},{"t":94.5,"n":14},{"t":95.5,"n":8},{"t":96.5,"n":15},{"t":97.5,"n":6},{"t":98.5,"n":15},{"t":99.5,"n":25},{"t":100.5,"n":20},{"t":101.5,"n":1},{"t":108.5,"n":1},{"t":109.5,"n":2},{"t":110.5,"n":1},{"t":112.5,"n":3},{"t":113.5,"n":1},{"t":114.5,"n":1}],
"capL":[
{"l":1,"x":0,"s":"FIGURE 6 | Extracellular voltages, recorded from IrOx electrodes (A),","b":1},
{"l":2,"x":0,"s":"demonstrates excellent signal-to-noise ratio in probing spontaneous","b":1},
{"l":3,"x":0,"s":"spiking activity in acute slices of rat neocortex.","b":1},
{"l":3,"x":398,"s":"Asterisks identify the","b":0},
{"l":4,"x":0,"s":"occurrence of single-unit events, whose waveforms","b":0},
{"l":4,"x":401.7,"s":"(B)","b":1},
{"l":4,"x":430.9,"s":"resemble the second-","b":0},
{"l":5,"x":0,"s":"derivative of an intracellular action potential, consistent with the expected","b":0},
{"l":6,"x":0,"s":"behavior of the neuron–electrode electrochemical interface.","b":0},
{"l":6,"x":465,"s":"(C)","b":1},
{"l":6,"x":494.2,"s":"Due to a higher","b":0},
{"l":7,"x":0,"s":"intrinsic noise, planar platinum MEAs allow only the detection of strong signals","b":0}],
"capR":[
{"l":1,"x":0,"s":"and generally transduce less neuronal activity. Transient collective network","b":0},
{"l":2,"x":0,"s":"responsiveness to bath application of an agonist of glutamatergic excitatory","b":0},
{"l":3,"x":0,"s":"synaptic receptors (i.e. NMDA","b":0},
{"l":3,"x":232.4,"s":"R","b":2},
{"l":3,"x":239.6,"s":"), occurred at the time indicated by the arrow, and","b":0},
{"l":4,"x":0,"s":"were simultaneously monitored by the IrOx MEAs electrodes.","b":0},
{"l":4,"x":478.5,"s":"(D)","b":1},
{"l":4,"x":507.7,"s":"Once","b":0},
{"l":5,"x":0,"s":"detected by an adaptive-threshold peak-detection algorithm, spikes from","b":0},
{"l":6,"x":0,"s":"individual electrodes are represented by the time of occurrence (top panel) or by","b":0},
{"l":7,"x":0,"s":"the overall event rate, specified in bins of 1 s (bottom panel).","b":0}]
},
"layer":[
{"encoding":{"x":{"field":"t","type":"quantitative","scale":{"domain":[0,216],"range":[156,675.1],"nice":false,"zero":false},"axis":null}},
 "layer":[
  {"data":{"name":"a20"},"mark":{"type":"line","color":"black","strokeWidth":1.4},"encoding":{"y":{"datum":"e20","type":"nominal","scale":{"type":"band","domain":["e20","e48","e49","e52","e54","e55","e60"],"range":[52,442.6],"paddingInner":0,"paddingOuter":0},"axis":{"orient":"left","offset":-156,"domain":false,"ticks":false,"grid":false,"labelFontSize":21,"labelPadding":8,"labelColor":"black","title":null}},"yOffset":{"field":"v","type":"quantitative","scale":{"domain":[-62,62],"reverse":true,"nice":false,"zero":false}}}},
  {"data":{"name":"a48"},"mark":{"type":"line","color":"black","strokeWidth":1.4},"encoding":{"y":{"datum":"e48","type":"nominal"},"yOffset":{"field":"v","type":"quantitative"}}},
  {"data":{"name":"a49"},"mark":{"type":"line","color":"black","strokeWidth":1.4},"encoding":{"y":{"datum":"e49","type":"nominal"},"yOffset":{"field":"v","type":"quantitative"}}},
  {"data":{"name":"a52"},"mark":{"type":"line","color":"black","strokeWidth":1.4},"encoding":{"y":{"datum":"e52","type":"nominal"},"yOffset":{"field":"v","type":"quantitative"}}},
  {"data":{"name":"a54"},"mark":{"type":"line","color":"black","strokeWidth":1.4},"encoding":{"y":{"datum":"e54","type":"nominal"},"yOffset":{"field":"v","type":"quantitative"}}},
  {"data":{"name":"a55"},"mark":{"type":"line","color":"black","strokeWidth":1.4},"encoding":{"y":{"datum":"e55","type":"nominal"},"yOffset":{"field":"v","type":"quantitative"}}},
  {"data":{"name":"a60"},"mark":{"type":"line","color":"black","strokeWidth":1.4},"encoding":{"y":{"datum":"e60","type":"nominal"},"yOffset":{"field":"v","type":"quantitative"}}},
  {"data":{"name":"starsA"},"mark":{"type":"text","text":"*","fontSize":24,"dy":-11,"baseline":"alphabetic","align":"center","color":"black"},"encoding":{"y":{"field":"c","type":"nominal"}}},
  {"data":{"name":"sbA"},"mark":{"type":"line","color":"black","strokeWidth":6,"strokeCap":"square"},"encoding":{"y":{"datum":"e20","type":"nominal"},"yOffset":{"field":"v","type":"quantitative"},"detail":{"field":"g","type":"nominal"}}},
  {"data":{"values":[{"t":211,"v":42}]},"mark":{"type":"text","text":"25 ms","fontSize":22,"dy":-9,"baseline":"alphabetic","align":"center","color":"black"},"encoding":{"y":{"datum":"e20","type":"nominal"},"yOffset":{"field":"v","type":"quantitative"}}},
  {"data":{"values":[{"t":236.7,"v":0}]},"mark":{"type":"text","text":"10 µV","fontSize":22,"angle":270,"baseline":"alphabetic","align":"center","color":"black"},"encoding":{"y":{"datum":"e20","type":"nominal"},"yOffset":{"field":"v","type":"quantitative"}}},
  {"data":{"values":[{"t":-15.8,"v":88.9}]},"mark":{"type":"text","text":"A","fontSize":19,"fontWeight":"bold","baseline":"alphabetic","align":"left","color":"black"},"encoding":{"y":{"datum":"e20","type":"nominal"},"yOffset":{"field":"v","type":"quantitative"}}}
 ]},
{"encoding":{"x":{"field":"t","type":"quantitative","scale":{"domain":[0,216],"range":[156,675.1],"nice":false,"zero":false},"axis":null}},
 "layer":[
  {"data":{"name":"c2"},"mark":{"type":"line","color":"black","strokeWidth":1.4},"encoding":{"y":{"datum":"e2","type":"nominal","scale":{"type":"band","domain":["e2","e9","e17","e24","e29","e45","e60"],"range":[525.1,915.7],"paddingInner":0,"paddingOuter":0},"axis":{"orient":"left","offset":-156,"domain":false,"ticks":false,"grid":false,"labelFontSize":21,"labelPadding":8,"labelColor":"black","title":null}},"yOffset":{"field":"v","type":"quantitative","scale":{"domain":[-62,62],"reverse":true,"nice":false,"zero":false}}}},
  {"data":{"name":"c9"},"mark":{"type":"line","color":"black","strokeWidth":1.4},"encoding":{"y":{"datum":"e9","type":"nominal"},"yOffset":{"field":"v","type":"quantitative"}}},
  {"data":{"name":"c17"},"mark":{"type":"line","color":"black","strokeWidth":1.4},"encoding":{"y":{"datum":"e17","type":"nominal"},"yOffset":{"field":"v","type":"quantitative"}}},
  {"data":{"name":"c24"},"mark":{"type":"line","color":"black","strokeWidth":1.4},"encoding":{"y":{"datum":"e24","type":"nominal"},"yOffset":{"field":"v","type":"quantitative"}}},
  {"data":{"name":"c29"},"mark":{"type":"line","color":"black","strokeWidth":1.4},"encoding":{"y":{"datum":"e29","type":"nominal"},"yOffset":{"field":"v","type":"quantitative"}}},
  {"data":{"name":"c45"},"mark":{"type":"line","color":"black","strokeWidth":1.4},"encoding":{"y":{"datum":"e45","type":"nominal"},"yOffset":{"field":"v","type":"quantitative"}}},
  {"data":{"name":"c60"},"mark":{"type":"line","color":"black","strokeWidth":1.4},"encoding":{"y":{"datum":"e60","type":"nominal"},"yOffset":{"field":"v","type":"quantitative"}}},
  {"data":{"name":"starsC"},"mark":{"type":"text","text":"*","fontSize":24,"dy":-11,"baseline":"alphabetic","align":"center","color":"black"},"encoding":{"y":{"field":"c","type":"nominal"}}},
  {"data":{"values":[{"t":-16.2,"v":84.4}]},"mark":{"type":"text","text":"C","fontSize":19,"fontWeight":"bold","baseline":"alphabetic","align":"left","color":"black"},"encoding":{"y":{"datum":"e2","type":"nominal"},"yOffset":{"field":"v","type":"quantitative"}}}
 ]},
{"encoding":{"x":{"field":"t","type":"quantitative","scale":{"domain":[0,6.1],"range":[778,1211.1],"nice":false,"zero":false},"axis":null},
             "y":{"field":"v","type":"quantitative","scale":{"domain":[-4,4],"range":[339,71],"nice":false,"zero":false},"axis":null}},
 "layer":[
  {"data":{"name":"wave"},"mark":{"type":"line","color":"black","strokeWidth":2.4,"interpolate":"monotone"},"encoding":{"detail":{"field":"k","type":"nominal"}}},
  {"data":{"name":"sbB"},"mark":{"type":"line","color":"black","strokeWidth":5.5,"strokeCap":"square"},"encoding":{"detail":{"field":"g","type":"nominal"}}},
  {"data":{"values":[{"t":5.01,"v":-3.95}]},"mark":{"type":"text","text":"1 ms","fontSize":21,"dy":24.4,"baseline":"alphabetic","align":"center","color":"black"}},
  {"data":{"values":[{"t":5.9,"v":-2.955}]},"mark":{"type":"text","text":"2 µV","fontSize":21,"angle":270,"baseline":"alphabetic","align":"center","color":"black"}},
  {"data":{"values":[{"t":-0.042,"v":4.904}]},"mark":{"type":"text","text":"B","fontSize":19,"fontWeight":"bold","baseline":"alphabetic","align":"left","color":"black"}}
 ]},
{"encoding":{"x":{"field":"t","type":"quantitative","scale":{"domain":[7.5,130.4],"range":[788,1249],"nice":false,"zero":false},"axis":null},
             "y":{"field":"s","type":"quantitative","scale":{"domain":[0.45,46.9],"range":[491.7,730],"nice":false,"zero":false},
                  "axis":{"orient":"left","offset":-788,"values":[0.45,46.9],"tickSize":-3,"labels":false,"grid":false,"domainColor":"#555","tickColor":"#555","title":"Active Sites","titleFontSize":24.5,"titleFontWeight":"normal","titleColor":"black","titleX":-15,"titleY":605,"titleAngle":270,"titleBaseline":"alphabetic","titleAlign":"center"}}},
 "layer":[
  {"data":{"name":"raster"},"mark":{"type":"tick","orient":"vertical","thickness":2.6,"size":4.5,"color":"black","opacity":1}},
  {"data":{"values":[{"t":-2.2,"s":-4.1}]},"mark":{"type":"text","text":"D","fontSize":19,"fontWeight":"bold","baseline":"alphabetic","align":"left","color":"black"}}
 ]},
{"encoding":{"x":{"field":"t","type":"quantitative","scale":{"domain":[7.5,130.4],"range":[788,1249],"nice":false,"zero":false},
                  "axis":{"orient":"bottom","offset":-278,"values":[30,60,90,120],"tickSize":-4,"labelFontSize":21,"labelPadding":9,"labelColor":"black","domainColor":"#555","tickColor":"#555","grid":false,"title":"time [s]","titleFontSize":25,"titleFontWeight":"normal","titleColor":"black","titleX":1042,"titleY":49.7,"titleBaseline":"alphabetic","titleAlign":"center"}},
             "y":{"field":"n","type":"quantitative","scale":{"domain":[0,40],"range":[862,742],"nice":false},
                  "axis":{"orient":"left","offset":-788,"values":[0,20,40],"tickSize":-3,"labelFontSize":21,"labelPadding":7,"labelColor":"black","domainColor":"#555","tickColor":"#555","grid":false,"title":"#/sec","titleFontSize":25,"titleFontWeight":"normal","titleColor":"black","titleX":-38,"titleY":802,"titleAngle":270,"titleBaseline":"alphabetic","titleAlign":"center"}}},
 "layer":[
  {"data":{"name":"hist"},"mark":{"type":"bar","width":3.85,"color":"black"}},
  {"data":{"values":[{"t":7.2,"n":-15.3},{"t":7.2,"n":-3}]},"mark":{"type":"line","color":"black","strokeWidth":2}},
  {"data":{"values":[{"t":7.2,"n":-2.8}]},"mark":{"type":"point","shape":"triangle-up","filled":true,"size":110,"color":"black","opacity":1}}
 ]},
{"data":{"name":"capL"},
 "encoding":{"x":{"field":"x","type":"quantitative","scale":{"domain":[0,600],"range":[40,640],"nice":false,"zero":false},"axis":null},
             "y":{"field":"l","type":"quantitative","scale":{"domain":[1,7],"range":[972,1126.3],"nice":false,"zero":false},"axis":null},
             "text":{"field":"s","type":"nominal"}},
 "layer":[
  {"transform":[{"filter":"datum.b==0"}],"mark":{"type":"text","align":"left","baseline":"middle","fontSize":17.5,"color":"#222"}},
  {"transform":[{"filter":"datum.b==1"}],"mark":{"type":"text","align":"left","baseline":"middle","fontSize":17.5,"fontWeight":"bold","color":"#222"}}
 ]},
{"data":{"name":"capR"},
 "encoding":{"x":{"field":"x","type":"quantitative","scale":{"domain":[0,600],"range":[696,1296],"nice":false,"zero":false},"axis":null},
             "y":{"field":"l","type":"quantitative","scale":{"domain":[1,7],"range":[972,1126.3],"nice":false,"zero":false},"axis":null},
             "text":{"field":"s","type":"nominal"}},
 "layer":[
  {"transform":[{"filter":"datum.b==0"}],"mark":{"type":"text","align":"left","baseline":"middle","fontSize":17.5,"color":"#222"}},
  {"transform":[{"filter":"datum.b==1"}],"mark":{"type":"text","align":"left","baseline":"middle","fontSize":17.5,"fontWeight":"bold","color":"#222"}},
  {"transform":[{"filter":"datum.b==2"}],"mark":{"type":"text","align":"left","baseline":"middle","fontSize":10,"dy":6,"color":"#222"}}
 ]}
]
}
